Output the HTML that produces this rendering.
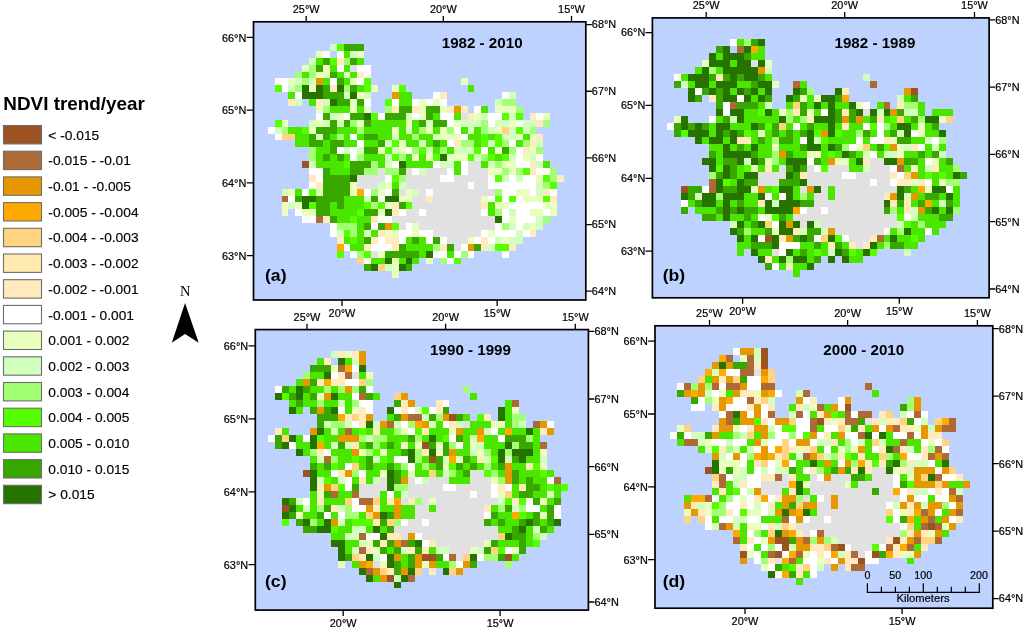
<!DOCTYPE html>
<html><head><meta charset="utf-8"><title>NDVI trend/year</title>
<style>html,body{margin:0;padding:0;background:#fff}svg{display:block}</style></head>
<body>
<svg width="1024" height="629" viewBox="0 0 1024 629">
<defs><filter id="bl" x="-5%" y="-5%" width="110%" height="110%"><feGaussianBlur stdDeviation="0.45"/></filter></defs>
<rect width="1024" height="629" fill="#fff"/>
<rect x="253.5" y="21.8" width="332.3" height="278.2" fill="#bed2ff"/>
<g shape-rendering="crispEdges" filter="url(#bl)">
<path fill="#d3ffbe" d="M330 44h7v7h-7zM350 51h7v7h-7zM309 58h7v7h-7zM344 72h6v6h-6zM295 78h7v7h-7zM309 78h7v7h-7zM288 85h7v7h-7zM344 92h6v7h-6zM364 92h7v7h-7zM509 92h7v7h-7zM295 99h7v7h-7zM323 99h7v7h-7zM495 99h7v7h-7zM330 113h7v7h-7zM406 113h6v7h-6zM481 113h7v7h-7zM509 113h7v7h-7zM309 120h7v7h-7zM323 120h7v7h-7zM337 120h7v7h-7zM426 120h7v7h-7zM461 120h20v7h-20zM495 120h14v7h-14zM523 120h13v7h-13zM275 127h7v7h-7zM406 127h6v7h-6zM468 127h6v7h-6zM488 127h7v7h-7zM509 127h7v7h-7zM523 127h7v7h-7zM316 134h7v6h-7zM392 134h7v6h-7zM433 134h7v6h-7zM502 134h14v6h-14zM385 140h7v7h-7zM419 140h7v7h-7zM488 140h7v7h-7zM536 140h7v7h-7zM344 147h6v7h-6zM357 147h7v7h-7zM392 147h7v7h-7zM426 147h7v7h-7zM454 147h20v7h-20zM385 154h7v7h-7zM474 154h7v7h-7zM509 154h7v7h-7zM530 154h6v7h-6zM309 161h7v7h-7zM385 161h7v7h-7zM440 161h14v7h-14zM488 161h7v7h-7zM536 161h7v7h-7zM419 168h7v7h-7zM502 175h7v7h-7zM516 175h7v7h-7zM378 182h7v7h-7zM399 182h7v7h-7zM536 182h7v7h-7zM282 189h6v7h-6zM316 189h7v7h-7zM412 189h7v7h-7zM536 189h7v7h-7zM364 196h7v6h-7zM288 202h7v7h-7zM509 209h7v7h-7zM536 216h7v7h-7zM509 223h7v7h-7zM523 223h7v7h-7zM536 223h7v7h-7zM337 230h7v7h-7zM364 230h7v7h-7zM516 230h7v7h-7zM495 237h7v7h-7zM509 237h14v7h-14zM488 244h7v7h-7zM385 264h7v7h-7z"/>
<path fill="#55ff00" d="M337 44h7v7h-7zM330 58h7v7h-7zM364 78h7v7h-7zM275 85h7v7h-7zM364 85h7v7h-7zM399 85h7v7h-7zM385 99h7v7h-7zM371 113h7v7h-7zM502 113h7v7h-7zM516 113h7v7h-7zM275 120h7v7h-7zM302 127h7v7h-7zM516 127h7v7h-7zM481 134h7v6h-7zM495 134h7v6h-7zM392 140h7v7h-7zM481 140h7v7h-7zM495 140h7v7h-7zM385 147h7v7h-7zM419 147h7v7h-7zM474 147h7v7h-7zM392 154h7v7h-7zM433 154h7v7h-7zM468 154h6v7h-6zM488 154h7v7h-7zM502 154h7v7h-7zM344 161h6v7h-6zM523 168h7v7h-7zM392 175h7v7h-7zM495 175h7v7h-7zM543 175h7v7h-7zM550 182h7v7h-7zM309 189h7v7h-7zM495 196h7v6h-7zM509 196h7v6h-7zM543 196h7v6h-7zM309 202h7v7h-7zM364 202h7v7h-7zM378 202h7v7h-7zM406 202h6v7h-6zM357 209h7v7h-7zM350 216h7v7h-7zM392 223h7v7h-7zM344 230h6v7h-6zM350 237h7v7h-7zM495 244h14v7h-14zM337 251h7v7h-7zM364 251h7v7h-7zM454 258h7v6h-7z"/>
<path fill="#38a800" d="M344 44h20v7h-20zM323 58h7v7h-7zM350 58h7v7h-7zM316 65h7v7h-7zM330 72h7v6h-7zM337 78h7v7h-7zM323 85h7v7h-7zM350 85h7v7h-7zM323 92h21v7h-21zM337 99h13v7h-13zM357 99h7v7h-7zM399 106h13v7h-13zM426 106h14v7h-14zM323 113h7v7h-7zM350 113h14v7h-14zM385 113h21v7h-21zM426 113h7v7h-7zM330 120h7v7h-7zM344 120h6v7h-6zM364 120h7v7h-7zM419 120h7v7h-7zM433 120h14v7h-14zM316 127h21v7h-21zM309 134h7v6h-7zM323 134h7v6h-7zM364 134h14v6h-14zM309 140h14v7h-14zM330 140h14v7h-14zM378 140h7v7h-7zM433 140h7v7h-7zM330 147h7v7h-7zM364 147h14v7h-14zM502 147h7v7h-7zM323 154h7v7h-7zM337 154h7v7h-7zM350 161h21v7h-21zM323 168h7v7h-7zM350 168h14v7h-14zM399 168h7v7h-7zM323 175h27v7h-27zM323 182h27v7h-27zM323 189h27v7h-27zM392 189h7v7h-7zM295 196h7v6h-7zM316 196h28v6h-28zM371 196h7v6h-7zM316 202h14v7h-14zM337 202h7v7h-7zM399 202h7v7h-7zM316 209h14v7h-14zM364 209h14v7h-14zM330 216h7v7h-7zM364 223h7v7h-7zM378 223h7v7h-7zM364 237h7v7h-7zM412 237h7v7h-7zM433 237h7v7h-7zM399 244h7v7h-7zM447 244h7v7h-7zM474 244h7v7h-7zM385 251h34v7h-34zM364 264h7v7h-7zM406 264h6v7h-6z"/>
<path fill="#e9ffbe" d="M316 51h7v7h-7zM357 51h7v7h-7zM302 65h7v7h-7zM323 65h7v7h-7zM316 72h14v6h-14zM288 78h7v7h-7zM350 78h7v7h-7zM461 78h7v7h-7zM309 85h7v7h-7zM371 85h7v7h-7zM392 85h7v7h-7zM357 92h7v7h-7zM350 99h7v7h-7zM419 99h7v7h-7zM433 99h7v7h-7zM316 106h7v7h-7zM350 106h7v7h-7zM364 106h7v7h-7zM419 106h7v7h-7zM440 106h7v7h-7zM495 106h21v7h-21zM337 113h7v7h-7zM419 113h7v7h-7zM474 113h7v7h-7zM543 113h7v7h-7zM282 120h6v7h-6zM316 120h7v7h-7zM357 120h7v7h-7zM406 120h6v7h-6zM454 120h7v7h-7zM509 120h7v7h-7zM309 127h7v7h-7zM392 127h7v7h-7zM426 127h7v7h-7zM440 127h7v7h-7zM495 127h7v7h-7zM440 134h21v6h-21zM516 134h7v6h-7zM530 134h6v6h-6zM399 140h7v7h-7zM378 147h7v7h-7zM399 147h7v7h-7zM495 147h7v7h-7zM530 147h6v7h-6zM412 154h7v7h-7zM426 154h7v7h-7zM447 154h21v7h-21zM523 154h7v7h-7zM502 161h14v7h-14zM488 168h14v7h-14zM509 168h7v7h-7zM536 175h7v7h-7zM350 182h7v7h-7zM385 182h7v7h-7zM288 189h7v7h-7zM350 189h7v7h-7zM378 189h7v7h-7zM406 189h6v7h-6zM516 189h14v7h-14zM399 196h13v6h-13zM481 196h7v6h-7zM523 196h20v6h-20zM282 202h6v7h-6zM295 202h7v7h-7zM385 202h7v7h-7zM495 202h14v7h-14zM543 202h14v7h-14zM282 209h6v7h-6zM302 209h14v7h-14zM378 209h7v7h-7zM530 209h13v7h-13zM550 209h7v7h-7zM509 216h7v7h-7zM412 223h7v7h-7zM530 223h6v7h-6zM385 230h14v7h-14zM412 230h7v7h-7zM488 230h7v7h-7zM468 237h6v7h-6zM502 237h7v7h-7zM378 251h7v7h-7zM392 258h7v6h-7zM426 258h7v6h-7zM392 264h7v7h-7zM392 271h7v7h-7z"/>
<path fill="#ffffff" d="M323 51h7v7h-7zM337 51h7v7h-7zM337 65h7v7h-7zM357 65h14v7h-14zM364 72h7v6h-7zM275 78h13v7h-13zM330 78h7v7h-7zM357 78h7v7h-7zM282 85h6v7h-6zM295 92h7v7h-7zM433 92h7v7h-7zM502 92h7v7h-7zM364 99h7v7h-7zM392 99h7v7h-7zM412 99h7v7h-7zM426 99h7v7h-7zM440 99h7v7h-7zM474 106h7v7h-7zM316 113h7v7h-7zM344 113h6v7h-6zM378 113h7v7h-7zM412 113h7v7h-7zM440 113h14v7h-14zM488 113h14v7h-14zM536 113h7v7h-7zM447 120h7v7h-7zM488 120h7v7h-7zM516 120h7v7h-7zM268 127h7v7h-7zM454 127h7v7h-7zM275 134h7v6h-7zM350 134h7v6h-7zM461 134h7v6h-7zM357 140h7v7h-7zM447 140h7v7h-7zM509 140h7v7h-7zM337 147h7v7h-7zM350 147h7v7h-7zM406 147h6v7h-6zM481 147h7v7h-7zM516 147h7v7h-7zM350 154h7v7h-7zM516 154h7v7h-7zM536 154h7v7h-7zM392 161h7v7h-7zM433 161h7v7h-7zM461 161h7v7h-7zM516 161h14v7h-14zM309 168h14v7h-14zM412 168h7v7h-7zM447 168h7v7h-7zM461 168h7v7h-7zM536 168h14v7h-14zM316 175h7v7h-7zM385 175h7v7h-7zM440 175h14v7h-14zM488 175h7v7h-7zM509 175h7v7h-7zM523 175h13v7h-13zM309 182h7v7h-7zM468 182h6v7h-6zM488 182h48v7h-48zM302 189h7v7h-7zM364 189h7v7h-7zM385 189h7v7h-7zM426 189h7v7h-7zM502 189h14v7h-14zM530 189h6v7h-6zM550 189h7v7h-7zM288 196h7v6h-7zM378 196h7v6h-7zM488 196h7v6h-7zM502 196h7v6h-7zM516 196h7v6h-7zM509 202h34v7h-34zM295 209h7v7h-7zM399 209h7v7h-7zM419 209h7v7h-7zM481 209h7v7h-7zM502 209h7v7h-7zM516 209h14v7h-14zM543 209h7v7h-7zM302 216h14v7h-14zM378 216h14v7h-14zM502 216h7v7h-7zM516 216h20v7h-20zM330 223h7v7h-7zM371 223h7v7h-7zM406 223h6v7h-6zM495 223h7v7h-7zM516 223h7v7h-7zM330 230h7v7h-7zM399 230h13v7h-13zM419 230h14v7h-14zM481 230h7v7h-7zM495 230h21v7h-21zM523 230h7v7h-7zM378 237h7v7h-7zM399 237h7v7h-7zM426 237h7v7h-7zM440 237h7v7h-7zM474 237h7v7h-7zM488 237h7v7h-7zM344 244h6v7h-6zM371 244h21v7h-21zM461 244h7v7h-7zM350 251h7v7h-7zM433 251h14v7h-14zM454 251h7v7h-7zM468 251h6v7h-6zM502 251h7v7h-7zM364 258h7v6h-7zM447 258h7v6h-7z"/>
<path fill="#4ce600" d="M344 51h6v7h-6zM316 58h7v7h-7zM357 58h7v7h-7zM330 65h7v7h-7zM344 65h6v7h-6zM302 72h7v6h-7zM337 72h7v6h-7zM350 72h7v6h-7zM323 78h7v7h-7zM344 78h6v7h-6zM357 85h7v7h-7zM468 85h6v7h-6zM288 92h7v7h-7zM399 92h13v7h-13zM309 99h7v7h-7zM399 99h13v7h-13zM330 106h20v7h-20zM357 106h7v7h-7zM481 106h7v7h-7zM433 113h7v7h-7zM454 113h7v7h-7zM371 120h35v7h-35zM412 120h7v7h-7zM288 127h14v7h-14zM337 127h20v7h-20zM364 127h28v7h-28zM399 127h7v7h-7zM412 127h7v7h-7zM433 127h7v7h-7zM461 127h7v7h-7zM474 127h7v7h-7zM295 134h14v6h-14zM330 134h7v6h-7zM344 134h6v6h-6zM357 134h7v6h-7zM378 134h14v6h-14zM399 134h13v6h-13zM419 134h14v6h-14zM468 134h13v6h-13zM488 134h7v6h-7zM523 134h7v6h-7zM295 140h14v7h-14zM323 140h7v7h-7zM344 140h13v7h-13zM364 140h14v7h-14zM406 140h13v7h-13zM426 140h7v7h-7zM440 140h7v7h-7zM474 140h7v7h-7zM516 140h7v7h-7zM316 147h14v7h-14zM433 147h7v7h-7zM447 147h7v7h-7zM488 147h7v7h-7zM316 154h7v7h-7zM330 154h7v7h-7zM344 154h6v7h-6zM364 154h21v7h-21zM406 154h6v7h-6zM419 154h7v7h-7zM495 154h7v7h-7zM316 161h28v7h-28zM378 161h7v7h-7zM406 161h27v7h-27zM454 161h7v7h-7zM481 161h7v7h-7zM543 161h7v7h-7zM330 168h20v7h-20zM454 168h7v7h-7zM392 182h7v7h-7zM295 189h7v7h-7zM344 196h20v6h-20zM330 202h7v7h-7zM344 202h20v7h-20zM488 202h7v7h-7zM330 209h27v7h-27zM488 209h7v7h-7zM337 216h13v7h-13zM357 216h14v7h-14zM357 223h7v7h-7zM357 230h7v7h-7zM371 230h7v7h-7zM344 237h6v7h-6zM357 237h7v7h-7zM406 237h6v7h-6zM419 237h7v7h-7zM350 244h14v7h-14zM406 244h27v7h-27zM419 251h7v7h-7zM447 251h7v7h-7zM371 258h14v6h-14zM399 258h7v6h-7zM412 258h7v6h-7z"/>
<path fill="#ffebbe" d="M337 58h7v7h-7zM357 72h7v6h-7zM330 85h7v7h-7zM440 92h7v7h-7zM288 99h7v7h-7zM316 99h7v7h-7zM392 106h7v7h-7zM412 106h7v7h-7zM447 106h7v7h-7zM461 106h7v7h-7zM468 113h6v7h-6zM530 113h6v7h-6zM536 120h7v7h-7zM536 134h7v6h-7zM454 140h7v7h-7zM530 140h6v7h-6zM523 147h7v7h-7zM530 161h6v7h-6zM530 168h6v7h-6zM309 175h7v7h-7zM557 175h7v7h-7zM316 182h7v7h-7zM543 189h7v7h-7zM426 196h7v6h-7zM550 196h7v6h-7zM392 202h7v7h-7zM481 202h7v7h-7zM392 209h7v7h-7zM323 216h7v7h-7zM371 216h7v7h-7zM378 230h7v7h-7zM530 230h6v7h-6zM337 237h7v7h-7zM371 237h7v7h-7zM385 237h14v7h-14zM481 237h7v7h-7zM364 244h7v7h-7zM392 244h7v7h-7zM440 244h7v7h-7zM481 244h7v7h-7zM509 244h7v7h-7z"/>
<path fill="#a3ff73" d="M344 58h6v7h-6zM309 65h7v7h-7zM295 72h7v6h-7zM309 72h7v6h-7zM302 78h7v7h-7zM295 85h7v7h-7zM344 85h6v7h-6zM502 99h14v7h-14zM323 106h7v7h-7zM385 106h7v7h-7zM516 106h7v7h-7zM350 120h7v7h-7zM481 120h7v7h-7zM543 120h7v7h-7zM282 127h6v7h-6zM357 127h7v7h-7zM419 127h7v7h-7zM447 127h7v7h-7zM481 127h7v7h-7zM530 127h6v7h-6zM337 134h7v6h-7zM412 134h7v6h-7zM461 140h13v7h-13zM502 140h7v7h-7zM523 140h7v7h-7zM309 147h7v7h-7zM412 147h7v7h-7zM440 147h7v7h-7zM509 147h7v7h-7zM536 147h7v7h-7zM309 154h7v7h-7zM357 154h7v7h-7zM399 154h7v7h-7zM481 154h7v7h-7zM371 161h7v7h-7zM495 161h7v7h-7zM364 168h14v7h-14zM385 168h14v7h-14zM502 168h7v7h-7zM516 168h7v7h-7zM550 168h7v7h-7zM399 175h7v7h-7zM550 175h7v7h-7zM543 182h7v7h-7zM371 189h7v7h-7zM495 189h7v7h-7zM371 202h7v7h-7zM495 209h7v7h-7zM543 216h7v7h-7zM337 223h20v7h-20zM502 223h7v7h-7zM350 230h7v7h-7zM433 244h7v7h-7zM357 251h7v7h-7zM461 251h7v7h-7zM440 258h7v6h-7z"/>
<path fill="#e1e1e1" d="M350 65h7v7h-7zM461 113h7v7h-7zM468 161h13v7h-13zM378 168h7v7h-7zM406 168h6v7h-6zM426 168h21v7h-21zM468 168h20v7h-20zM357 175h28v7h-28zM406 175h34v7h-34zM454 175h34v7h-34zM357 182h21v7h-21zM406 182h62v7h-62zM474 182h14v7h-14zM399 189h7v7h-7zM419 189h7v7h-7zM433 189h62v7h-62zM412 196h14v6h-14zM433 196h48v6h-48zM412 202h69v7h-69zM406 209h13v7h-13zM426 209h55v7h-55zM392 216h103v7h-103zM399 223h7v7h-7zM419 223h76v7h-76zM433 230h48v7h-48zM447 237h21v7h-21zM454 244h7v7h-7zM371 251h7v7h-7z"/>
<path fill="#e69800" d="M316 78h7v7h-7zM392 92h7v7h-7zM454 106h7v7h-7zM385 223h7v7h-7zM468 244h6v7h-6z"/>
<path fill="#267300" d="M302 85h7v7h-7zM316 85h7v7h-7zM337 85h7v7h-7zM302 92h21v7h-21zM350 92h7v7h-7zM330 99h7v7h-7zM364 113h7v7h-7zM440 154h7v7h-7zM399 161h7v7h-7zM350 175h7v7h-7zM302 196h14v6h-14zM385 196h14v6h-14zM302 202h7v7h-7zM385 209h7v7h-7zM495 216h7v7h-7zM426 251h7v7h-7zM385 258h7v6h-7zM406 258h6v6h-6zM371 264h7v7h-7zM399 264h7v7h-7z"/>
<path fill="#ffd37f" d="M502 127h7v7h-7zM282 134h13v6h-13zM357 258h7v6h-7zM378 264h7v7h-7z"/>
<path fill="#9c5221" d="M302 161h7v7h-7z"/>
<path fill="#ffaa00" d="M357 189h7v7h-7zM337 244h7v7h-7z"/>
<path fill="#ad6b38" d="M282 196h6v6h-6zM316 216h7v7h-7z"/>
</g>
<rect x="253.5" y="21.8" width="332.3" height="278.2" fill="none" stroke="#000" stroke-width="1.7"/>
<text transform="translate(246.35 41.55) scale(1.02 1)" text-anchor="end" font-family="Liberation Sans, Arial, sans-serif" font-size="10.7" stroke="#000" stroke-width="0.2">66°N</text>
<text transform="translate(246.35 114.35) scale(1.02 1)" text-anchor="end" font-family="Liberation Sans, Arial, sans-serif" font-size="10.7" stroke="#000" stroke-width="0.2">65°N</text>
<text transform="translate(246.35 187.15) scale(1.02 1)" text-anchor="end" font-family="Liberation Sans, Arial, sans-serif" font-size="10.7" stroke="#000" stroke-width="0.2">64°N</text>
<text transform="translate(246.35 259.85) scale(1.02 1)" text-anchor="end" font-family="Liberation Sans, Arial, sans-serif" font-size="10.7" stroke="#000" stroke-width="0.2">63°N</text>
<text transform="translate(591.85 28.45) scale(1.02 1)" font-family="Liberation Sans, Arial, sans-serif" font-size="10.7" stroke="#000" stroke-width="0.2">68°N</text>
<text transform="translate(591.85 95.10) scale(1.02 1)" font-family="Liberation Sans, Arial, sans-serif" font-size="10.7" stroke="#000" stroke-width="0.2">67°N</text>
<text transform="translate(591.85 161.75) scale(1.02 1)" font-family="Liberation Sans, Arial, sans-serif" font-size="10.7" stroke="#000" stroke-width="0.2">66°N</text>
<text transform="translate(591.85 228.40) scale(1.02 1)" font-family="Liberation Sans, Arial, sans-serif" font-size="10.7" stroke="#000" stroke-width="0.2">65°N</text>
<text transform="translate(591.85 295.05) scale(1.02 1)" font-family="Liberation Sans, Arial, sans-serif" font-size="10.7" stroke="#000" stroke-width="0.2">64°N</text>
<text transform="translate(306.20 13.30) scale(1.02 1)" text-anchor="middle" font-family="Liberation Sans, Arial, sans-serif" font-size="10.7" stroke="#000" stroke-width="0.2">25°W</text>
<text transform="translate(443.30 13.30) scale(1.02 1)" text-anchor="middle" font-family="Liberation Sans, Arial, sans-serif" font-size="10.7" stroke="#000" stroke-width="0.2">20°W</text>
<text transform="translate(571.50 13.30) scale(1.02 1)" text-anchor="middle" font-family="Liberation Sans, Arial, sans-serif" font-size="10.7" stroke="#000" stroke-width="0.2">15°W</text>
<text transform="translate(342.00 316.60) scale(1.02 1)" text-anchor="middle" font-family="Liberation Sans, Arial, sans-serif" font-size="10.7" stroke="#000" stroke-width="0.2">20°W</text>
<text transform="translate(497.20 316.60) scale(1.02 1)" text-anchor="middle" font-family="Liberation Sans, Arial, sans-serif" font-size="10.7" stroke="#000" stroke-width="0.2">15°W</text>
<path d="M246.7 37.3H253.5M246.7 110.1H253.5M246.7 182.9H253.5M246.7 255.6H253.5M585.8 24.6H591.8M585.8 91.25H591.8M585.8 157.9H591.8M585.8 224.55H591.8M585.8 291.2H591.8M306.2 21.8V15.9M443.3 21.8V15.9M571.5 21.8V15.9M342.0 300.0V305.9M497.2 300.0V305.9" stroke="#000" stroke-width="1.3" fill="none"/>
<text transform="translate(441.70 47.60) scale(0.985 1)" font-family="Liberation Sans, Arial, sans-serif" font-size="15.4" font-weight="bold">1982 - 2010</text>
<text transform="translate(264.95 281.15) scale(1.05 1)" font-family="Liberation Sans, Arial, sans-serif" font-size="16.8" font-weight="bold">(a)</text>
<rect x="652.4" y="17.9" width="336.7" height="279.9" fill="#bed2ff"/>
<g shape-rendering="crispEdges" filter="url(#bl)">
<path fill="#ffffff" d="M730 39h7v7h-7zM674 74h7v7h-7zM695 88h7v7h-7zM737 95h7v7h-7zM723 102h7v7h-7zM863 102h7v7h-7zM723 109h7v7h-7zM821 109h7v7h-7zM709 116h7v7h-7zM667 123h7v7h-7zM793 123h7v7h-7zM863 123h7v7h-7zM877 123h7v7h-7zM877 130h7v7h-7zM911 130h7v7h-7zM800 137h7v7h-7zM856 137h7v7h-7zM870 137h14v7h-14zM932 137h7v7h-7zM849 144h7v7h-7zM918 144h7v7h-7zM870 151h7v7h-7zM807 158h7v7h-7zM925 158h7v7h-7zM814 165h7v7h-7zM890 165h7v7h-7zM842 172h14v7h-14zM897 172h7v7h-7zM870 179h7v7h-7zM890 179h7v7h-7zM925 179h7v7h-7zM702 186h7v7h-7zM946 186h7v7h-7zM765 193h7v7h-7zM779 193h7v7h-7zM681 200h7v7h-7zM800 207h7v7h-7zM821 207h7v7h-7zM758 214h7v7h-7zM904 214h7v7h-7zM772 221h7v7h-7zM884 228h6v7h-6zM925 228h7v7h-7zM758 235h7v7h-7zM814 235h7v7h-7zM842 235h7v7h-7zM779 242h21v7h-21zM779 249h7v7h-7zM772 263h7v7h-7z"/>
<path fill="#4ce600" d="M737 39h7v7h-7zM758 46h7v7h-7zM716 53h7v7h-7zM751 53h14v7h-14zM730 60h7v7h-7zM695 67h7v7h-7zM716 67h7v7h-7zM681 74h7v7h-7zM765 74h7v7h-7zM688 81h7v7h-7zM709 81h7v7h-7zM737 81h14v7h-14zM800 81h7v7h-7zM730 88h7v7h-7zM758 88h7v7h-7zM751 95h7v7h-7zM807 95h7v7h-7zM904 95h7v7h-7zM758 102h7v7h-7zM786 102h7v7h-7zM807 102h7v7h-7zM821 102h7v7h-7zM835 102h14v7h-14zM877 102h7v7h-7zM918 102h7v7h-7zM744 109h14v7h-14zM772 109h7v7h-7zM814 109h7v7h-7zM918 109h7v7h-7zM932 109h21v7h-21zM716 116h7v7h-7zM744 116h35v7h-35zM793 116h7v7h-7zM863 116h7v7h-7zM884 116h6v7h-6zM904 116h7v7h-7zM709 123h7v7h-7zM730 123h21v7h-21zM786 123h7v7h-7zM800 123h7v7h-7zM814 123h14v7h-14zM835 123h7v7h-7zM849 123h14v7h-14zM890 123h7v7h-7zM911 123h7v7h-7zM925 123h7v7h-7zM709 130h7v7h-7zM751 130h7v7h-7zM765 130h7v7h-7zM779 130h7v7h-7zM793 130h7v7h-7zM842 130h14v7h-14zM870 130h7v7h-7zM884 130h6v7h-6zM925 130h14v7h-14zM702 137h7v7h-7zM723 137h7v7h-7zM751 137h7v7h-7zM765 137h7v7h-7zM793 137h7v7h-7zM828 137h28v7h-28zM863 137h7v7h-7zM911 137h14v7h-14zM709 144h14v7h-14zM730 144h7v7h-7zM744 144h7v7h-7zM758 144h14v7h-14zM779 144h21v7h-21zM821 144h7v7h-7zM870 144h7v7h-7zM925 144h7v7h-7zM939 144h7v7h-7zM716 151h7v7h-7zM758 151h14v7h-14zM793 151h14v7h-14zM821 151h7v7h-7zM835 151h7v7h-7zM856 151h7v7h-7zM877 151h7v7h-7zM904 151h14v7h-14zM925 151h7v7h-7zM716 158h7v7h-7zM779 158h7v7h-7zM821 158h7v7h-7zM849 158h7v7h-7zM918 158h7v7h-7zM939 158h7v7h-7zM737 165h7v7h-7zM758 165h7v7h-7zM772 165h7v7h-7zM849 165h14v7h-14zM904 165h7v7h-7zM918 165h7v7h-7zM939 165h14v7h-14zM737 172h7v7h-7zM918 172h7v7h-7zM932 172h7v7h-7zM946 172h7v7h-7zM730 179h7v7h-7zM932 179h7v7h-7zM765 186h7v7h-7zM793 186h7v7h-7zM828 186h7v7h-7zM911 186h7v7h-7zM953 186h7v7h-7zM744 193h14v7h-14zM772 193h7v7h-7zM793 193h7v7h-7zM807 193h7v7h-7zM828 193h7v7h-7zM918 193h7v7h-7zM939 193h7v7h-7zM953 193h7v7h-7zM688 200h7v7h-7zM716 200h7v7h-7zM730 200h7v7h-7zM744 200h14v7h-14zM911 200h7v7h-7zM932 200h7v7h-7zM953 200h7v7h-7zM695 207h21v7h-21zM758 207h7v7h-7zM897 207h7v7h-7zM939 207h7v7h-7zM716 214h7v7h-7zM730 214h14v7h-14zM751 214h7v7h-7zM786 214h7v7h-7zM918 214h21v7h-21zM744 221h7v7h-7zM911 221h7v7h-7zM925 221h21v7h-21zM751 228h14v7h-14zM890 228h7v7h-7zM911 228h14v7h-14zM932 228h7v7h-7zM744 235h7v7h-7zM884 235h6v7h-6zM897 235h14v7h-14zM918 235h7v7h-7zM737 242h14v7h-14zM800 242h14v7h-14zM821 242h7v7h-7zM842 242h7v7h-7zM877 242h7v7h-7zM904 242h14v7h-14zM737 249h7v7h-7zM758 249h14v7h-14zM793 249h7v7h-7zM807 249h7v7h-7zM821 249h7v7h-7zM856 249h7v7h-7zM772 256h7v7h-7zM807 256h7v7h-7zM849 256h14v7h-14zM779 263h7v7h-7zM793 263h14v7h-14zM793 270h7v7h-7z"/>
<path fill="#a3ff73" d="M744 39h7v7h-7zM709 67h7v7h-7zM807 88h7v7h-7zM904 102h14v7h-14zM786 109h7v7h-7zM786 116h7v7h-7zM800 116h7v7h-7zM918 116h7v7h-7zM884 123h6v7h-6zM856 130h7v7h-7zM772 137h7v7h-7zM939 137h7v7h-7zM842 144h7v7h-7zM772 151h7v7h-7zM772 158h7v7h-7zM953 165h7v7h-7zM709 172h7v7h-7zM946 179h14v7h-14zM716 193h7v7h-7zM800 193h7v7h-7zM890 207h7v7h-7zM953 207h7v7h-7zM918 221h7v7h-7zM744 228h7v7h-7zM897 228h7v7h-7zM884 242h6v7h-6zM786 256h7v7h-7z"/>
<path fill="#38a800" d="M751 39h7v7h-7zM716 46h7v7h-7zM744 53h7v7h-7zM709 74h7v7h-7zM723 74h7v7h-7zM737 74h7v7h-7zM758 74h7v7h-7zM674 81h7v7h-7zM751 81h7v7h-7zM702 88h7v7h-7zM716 88h7v7h-7zM744 88h7v7h-7zM800 88h7v7h-7zM695 95h7v7h-7zM716 95h7v7h-7zM765 95h7v7h-7zM793 95h7v7h-7zM835 95h7v7h-7zM911 95h7v7h-7zM716 102h7v7h-7zM737 102h21v7h-21zM800 102h7v7h-7zM800 109h7v7h-7zM835 109h7v7h-7zM849 109h7v7h-7zM897 109h7v7h-7zM723 116h7v7h-7zM835 116h7v7h-7zM849 116h7v7h-7zM870 116h7v7h-7zM911 116h7v7h-7zM674 123h7v7h-7zM688 123h7v7h-7zM702 123h7v7h-7zM758 123h7v7h-7zM772 123h7v7h-7zM807 123h7v7h-7zM932 123h7v7h-7zM674 130h7v7h-7zM723 130h7v7h-7zM737 130h7v7h-7zM772 130h7v7h-7zM786 130h7v7h-7zM800 130h7v7h-7zM863 130h7v7h-7zM890 130h7v7h-7zM758 137h7v7h-7zM779 137h14v7h-14zM897 137h14v7h-14zM737 144h7v7h-7zM800 144h7v7h-7zM835 144h7v7h-7zM877 144h7v7h-7zM709 151h7v7h-7zM751 151h7v7h-7zM786 151h7v7h-7zM849 151h7v7h-7zM918 151h7v7h-7zM932 151h7v7h-7zM723 158h14v7h-14zM758 158h7v7h-7zM814 158h7v7h-7zM904 158h14v7h-14zM946 158h7v7h-7zM730 165h7v7h-7zM786 165h7v7h-7zM800 165h7v7h-7zM716 172h7v7h-7zM730 172h7v7h-7zM793 172h7v7h-7zM960 172h7v7h-7zM744 179h14v7h-14zM779 179h21v7h-21zM688 186h14v7h-14zM723 186h14v7h-14zM904 186h7v7h-7zM688 193h7v7h-7zM925 193h14v7h-14zM695 200h7v7h-7zM737 200h7v7h-7zM800 200h14v7h-14zM897 200h7v7h-7zM918 200h7v7h-7zM946 200h7v7h-7zM681 207h7v7h-7zM716 207h7v7h-7zM730 207h7v7h-7zM744 207h14v7h-14zM884 207h6v7h-6zM925 207h7v7h-7zM702 214h14v7h-14zM744 214h7v7h-7zM779 214h7v7h-7zM939 214h14v7h-14zM751 221h7v7h-7zM737 228h7v7h-7zM765 228h7v7h-7zM807 228h14v7h-14zM793 235h7v7h-7zM807 235h7v7h-7zM751 242h21v7h-21zM814 242h7v7h-7zM835 242h7v7h-7zM890 242h14v7h-14zM800 249h7v7h-7zM842 249h7v7h-7zM814 256h7v7h-7zM765 263h7v7h-7z"/>
<path fill="#267300" d="M758 39h7v7h-7zM723 46h7v7h-7zM744 46h7v7h-7zM709 53h7v7h-7zM723 53h21v7h-21zM709 60h21v7h-21zM737 60h14v7h-14zM758 60h7v7h-7zM702 67h7v7h-7zM723 67h35v7h-35zM688 74h21v7h-21zM730 74h7v7h-7zM744 74h14v7h-14zM695 81h14v7h-14zM716 81h21v7h-21zM758 81h14v7h-14zM688 88h7v7h-7zM709 88h7v7h-7zM723 88h7v7h-7zM737 88h7v7h-7zM751 88h7v7h-7zM765 88h7v7h-7zM793 88h7v7h-7zM835 88h7v7h-7zM688 95h7v7h-7zM723 95h14v7h-14zM744 95h7v7h-7zM758 95h7v7h-7zM786 95h7v7h-7zM821 95h14v7h-14zM814 102h7v7h-7zM828 102h7v7h-7zM849 102h7v7h-7zM716 109h7v7h-7zM730 109h14v7h-14zM765 109h7v7h-7zM828 109h7v7h-7zM856 109h7v7h-7zM870 109h7v7h-7zM884 109h6v7h-6zM681 116h7v7h-7zM737 116h7v7h-7zM779 116h7v7h-7zM814 116h21v7h-21zM925 116h14v7h-14zM681 123h7v7h-7zM695 123h7v7h-7zM716 123h14v7h-14zM751 123h7v7h-7zM828 123h7v7h-7zM897 123h14v7h-14zM688 130h21v7h-21zM716 130h7v7h-7zM730 130h7v7h-7zM807 130h7v7h-7zM828 130h7v7h-7zM904 130h7v7h-7zM939 130h7v7h-7zM695 137h7v7h-7zM709 137h14v7h-14zM730 137h7v7h-7zM807 137h7v7h-7zM723 144h7v7h-7zM751 144h7v7h-7zM807 144h14v7h-14zM828 144h7v7h-7zM723 151h28v7h-28zM842 151h7v7h-7zM702 158h14v7h-14zM737 158h7v7h-7zM751 158h7v7h-7zM786 158h21v7h-21zM856 158h7v7h-7zM884 158h13v7h-13zM709 165h7v7h-7zM723 165h7v7h-7zM793 165h7v7h-7zM723 172h7v7h-7zM744 172h14v7h-14zM786 172h7v7h-7zM953 172h7v7h-7zM716 179h7v7h-7zM737 179h7v7h-7zM800 179h7v7h-7zM716 186h7v7h-7zM737 186h14v7h-14zM779 186h14v7h-14zM814 186h7v7h-7zM897 186h7v7h-7zM932 186h14v7h-14zM681 193h7v7h-7zM702 193h14v7h-14zM723 193h21v7h-21zM758 193h7v7h-7zM786 193h7v7h-7zM897 193h7v7h-7zM946 193h7v7h-7zM702 200h14v7h-14zM723 200h7v7h-7zM765 200h7v7h-7zM779 200h21v7h-21zM884 200h6v7h-6zM723 207h7v7h-7zM737 207h7v7h-7zM765 207h28v7h-28zM932 207h7v7h-7zM946 207h7v7h-7zM723 214h7v7h-7zM737 221h7v7h-7zM758 221h7v7h-7zM779 221h7v7h-7zM793 221h7v7h-7zM807 221h7v7h-7zM730 228h7v7h-7zM779 228h14v7h-14zM904 228h7v7h-7zM737 235h7v7h-7zM751 235h7v7h-7zM772 235h7v7h-7zM800 235h7v7h-7zM828 235h7v7h-7zM890 235h7v7h-7zM772 242h7v7h-7zM870 242h7v7h-7zM751 249h7v7h-7zM786 249h7v7h-7zM835 249h7v7h-7zM863 249h7v7h-7zM758 256h7v7h-7zM779 256h7v7h-7zM793 256h14v7h-14zM828 256h7v7h-7zM842 256h7v7h-7zM807 263h7v7h-7z"/>
<path fill="#ad6b38" d="M737 46h7v7h-7zM793 81h7v7h-7zM870 81h7v7h-7zM730 102h7v7h-7zM884 102h6v7h-6zM897 165h7v7h-7zM709 179h7v7h-7zM709 186h7v7h-7zM877 235h7v7h-7z"/>
<path fill="#ffaa00" d="M751 46h7v7h-7zM842 95h7v7h-7zM918 186h7v7h-7zM925 200h7v7h-7zM793 207h7v7h-7z"/>
<path fill="#e9ffbe" d="M702 60h7v7h-7zM765 60h7v7h-7zM772 81h7v7h-7zM800 95h7v7h-7zM814 95h7v7h-7zM856 102h7v7h-7zM779 109h7v7h-7zM807 109h7v7h-7zM674 116h7v7h-7zM939 116h7v7h-7zM918 123h7v7h-7zM758 130h7v7h-7zM918 130h7v7h-7zM890 137h7v7h-7zM772 144h7v7h-7zM856 144h7v7h-7zM897 144h7v7h-7zM807 151h14v7h-14zM897 151h7v7h-7zM765 158h7v7h-7zM835 158h14v7h-14zM932 158h7v7h-7zM751 165h7v7h-7zM911 165h7v7h-7zM911 179h7v7h-7zM939 179h7v7h-7zM751 186h7v7h-7zM925 186h7v7h-7zM765 214h7v7h-7zM772 228h7v7h-7z"/>
<path fill="#e1e1e1" d="M751 60h7v7h-7zM863 109h7v7h-7zM870 158h14v7h-14zM779 165h7v7h-7zM807 165h7v7h-7zM828 165h21v7h-21zM870 165h20v7h-20zM758 172h28v7h-28zM807 172h35v7h-35zM856 172h34v7h-34zM758 179h21v7h-21zM807 179h63v7h-63zM877 179h13v7h-13zM800 186h7v7h-7zM821 186h7v7h-7zM835 186h62v7h-62zM814 193h14v7h-14zM835 193h49v7h-49zM814 200h70v7h-70zM807 207h14v7h-14zM828 207h56v7h-56zM793 214h104v7h-104zM800 221h7v7h-7zM821 221h76v7h-76zM835 228h49v7h-49zM849 235h21v7h-21zM856 242h7v7h-7zM772 249h7v7h-7z"/>
<path fill="#e69800" d="M758 67h7v7h-7zM904 88h7v7h-7zM890 109h7v7h-7zM842 116h7v7h-7zM856 116h7v7h-7zM821 130h7v7h-7zM890 144h7v7h-7zM779 151h7v7h-7zM828 158h7v7h-7zM897 158h7v7h-7zM911 172h7v7h-7zM758 186h7v7h-7zM807 186h7v7h-7zM890 193h7v7h-7zM911 193h7v7h-7zM918 207h7v7h-7zM786 221h7v7h-7zM828 228h7v7h-7zM786 235h7v7h-7z"/>
<path fill="#d3ffbe" d="M765 67h7v7h-7zM863 74h7v7h-7zM681 81h7v7h-7zM897 95h7v7h-7zM765 102h7v7h-7zM877 109h7v7h-7zM904 109h14v7h-14zM730 116h7v7h-7zM897 130h7v7h-7zM814 137h7v7h-7zM925 137h7v7h-7zM904 144h7v7h-7zM932 144h7v7h-7zM863 151h7v7h-7zM884 151h13v7h-13zM939 151h7v7h-7zM744 158h7v7h-7zM863 165h7v7h-7zM925 165h7v7h-7zM695 193h7v7h-7zM904 193h7v7h-7zM772 200h7v7h-7zM939 200h7v7h-7zM911 207h7v7h-7zM911 214h7v7h-7zM730 221h7v7h-7zM814 221h7v7h-7zM897 221h7v7h-7zM800 228h7v7h-7zM821 228h7v7h-7zM828 249h7v7h-7zM904 249h7v7h-7z"/>
<path fill="#ffebbe" d="M716 74h7v7h-7zM842 88h7v7h-7zM709 95h7v7h-7zM897 102h7v7h-7zM793 109h7v7h-7zM842 109h7v7h-7zM807 116h7v7h-7zM877 116h7v7h-7zM842 123h7v7h-7zM737 137h14v7h-14zM884 137h6v7h-6zM911 144h7v7h-7zM863 158h7v7h-7zM765 165h7v7h-7zM932 165h7v7h-7zM800 172h7v7h-7zM890 172h7v7h-7zM897 179h14v7h-14zM918 179h7v7h-7zM884 193h6v7h-6zM758 200h7v7h-7zM890 200h7v7h-7zM904 200h7v7h-7zM904 207h7v7h-7zM793 228h7v7h-7zM779 235h7v7h-7zM870 235h7v7h-7zM828 242h7v7h-7zM849 242h7v7h-7zM863 242h7v7h-7zM765 256h7v7h-7zM786 263h7v7h-7z"/>
<path fill="#9c5221" d="M911 88h7v7h-7zM681 186h7v7h-7zM765 235h7v7h-7z"/>
<path fill="#ffd37f" d="M793 102h7v7h-7zM897 116h7v7h-7zM946 116h7v7h-7zM779 123h7v7h-7zM863 144h7v7h-7zM904 172h7v7h-7zM765 221h7v7h-7zM821 235h7v7h-7z"/>
<path fill="#55ff00" d="M758 109h7v7h-7zM890 116h7v7h-7zM765 123h7v7h-7zM870 123h7v7h-7zM681 130h7v7h-7zM744 130h7v7h-7zM814 130h7v7h-7zM835 130h7v7h-7zM821 137h7v7h-7zM884 144h6v7h-6zM828 151h7v7h-7zM716 165h7v7h-7zM744 165h7v7h-7zM821 165h7v7h-7zM925 172h7v7h-7zM939 172h7v7h-7zM723 179h7v7h-7zM772 186h7v7h-7zM772 214h7v7h-7zM897 214h7v7h-7zM904 221h7v7h-7zM835 235h7v7h-7zM911 235h7v7h-7zM814 249h7v7h-7zM849 249h7v7h-7zM870 249h7v7h-7z"/>
</g>
<rect x="652.4" y="17.9" width="336.7" height="279.9" fill="none" stroke="#000" stroke-width="1.7"/>
<text transform="translate(645.25 36.45) scale(1.02 1)" text-anchor="end" font-family="Liberation Sans, Arial, sans-serif" font-size="10.7" stroke="#000" stroke-width="0.2">66°N</text>
<text transform="translate(645.25 109.25) scale(1.02 1)" text-anchor="end" font-family="Liberation Sans, Arial, sans-serif" font-size="10.7" stroke="#000" stroke-width="0.2">65°N</text>
<text transform="translate(645.25 182.15) scale(1.02 1)" text-anchor="end" font-family="Liberation Sans, Arial, sans-serif" font-size="10.7" stroke="#000" stroke-width="0.2">64°N</text>
<text transform="translate(645.25 254.95) scale(1.02 1)" text-anchor="end" font-family="Liberation Sans, Arial, sans-serif" font-size="10.7" stroke="#000" stroke-width="0.2">63°N</text>
<text transform="translate(995.15 23.75) scale(1.02 1)" font-family="Liberation Sans, Arial, sans-serif" font-size="10.7" stroke="#000" stroke-width="0.2">68°N</text>
<text transform="translate(995.15 90.95) scale(1.02 1)" font-family="Liberation Sans, Arial, sans-serif" font-size="10.7" stroke="#000" stroke-width="0.2">67°N</text>
<text transform="translate(995.15 158.25) scale(1.02 1)" font-family="Liberation Sans, Arial, sans-serif" font-size="10.7" stroke="#000" stroke-width="0.2">66°N</text>
<text transform="translate(995.15 225.55) scale(1.02 1)" font-family="Liberation Sans, Arial, sans-serif" font-size="10.7" stroke="#000" stroke-width="0.2">65°N</text>
<text transform="translate(995.15 292.85) scale(1.02 1)" font-family="Liberation Sans, Arial, sans-serif" font-size="10.7" stroke="#000" stroke-width="0.2">64°N</text>
<text transform="translate(706.20 9.40) scale(1.02 1)" text-anchor="middle" font-family="Liberation Sans, Arial, sans-serif" font-size="10.7" stroke="#000" stroke-width="0.2">25°W</text>
<text transform="translate(844.70 9.40) scale(1.02 1)" text-anchor="middle" font-family="Liberation Sans, Arial, sans-serif" font-size="10.7" stroke="#000" stroke-width="0.2">20°W</text>
<text transform="translate(974.50 9.40) scale(1.02 1)" text-anchor="middle" font-family="Liberation Sans, Arial, sans-serif" font-size="10.7" stroke="#000" stroke-width="0.2">15°W</text>
<text transform="translate(742.60 315.40) scale(1.02 1)" text-anchor="middle" font-family="Liberation Sans, Arial, sans-serif" font-size="10.7" stroke="#000" stroke-width="0.2">20°W</text>
<text transform="translate(899.30 315.40) scale(1.02 1)" text-anchor="middle" font-family="Liberation Sans, Arial, sans-serif" font-size="10.7" stroke="#000" stroke-width="0.2">15°W</text>
<path d="M645.5 32.6H652.4M645.5 105.4H652.4M645.5 178.3H652.4M645.5 251.1H652.4M989.1 19.9H995.1M989.1 87.1H995.1M989.1 154.4H995.1M989.1 221.7H995.1M989.1 289.0H995.1M706.2 17.9V12.0M844.7 17.9V12.0M974.5 17.9V12.0M742.6 297.8V303.7M899.3 297.8V303.7" stroke="#000" stroke-width="1.3" fill="none"/>
<text transform="translate(834.50 47.70) scale(0.985 1)" font-family="Liberation Sans, Arial, sans-serif" font-size="15.4" font-weight="bold">1982 - 1989</text>
<text transform="translate(662.65 280.90) scale(1.05 1)" font-family="Liberation Sans, Arial, sans-serif" font-size="16.8" font-weight="bold">(b)</text>
<rect x="255.3" y="329.6" width="333.1" height="280.5" fill="#bed2ff"/>
<g shape-rendering="crispEdges" filter="url(#bl)">
<path fill="#d3ffbe" d="M331 351h7v7h-7zM352 358h7v7h-7zM338 400h7v7h-7zM415 407h7v7h-7zM422 414h7v7h-7zM324 421h7v7h-7zM345 421h7v7h-7zM373 421h7v7h-7zM394 421h7v7h-7zM429 421h7v7h-7zM456 421h7v7h-7zM519 421h7v7h-7zM331 428h7v7h-7zM484 428h7v7h-7zM366 435h7v7h-7zM470 435h7v7h-7zM331 442h7v7h-7zM345 442h7v7h-7zM477 442h7v7h-7zM470 449h7v7h-7zM317 456h7v7h-7zM373 456h7v7h-7zM443 456h6v7h-6zM484 456h7v7h-7zM505 456h7v7h-7zM540 456h7v7h-7zM443 470h6v7h-6zM317 477h7v7h-7zM338 477h7v7h-7zM373 477h7v7h-7zM422 477h7v7h-7zM401 491h7v7h-7zM547 491h7v7h-7zM296 498h7v7h-7zM498 498h7v7h-7zM303 505h7v7h-7zM338 505h7v7h-7zM512 505h7v7h-7zM338 519h7v7h-7zM352 526h14v7h-14zM533 526h7v7h-7zM345 533h14v7h-14zM540 533h7v7h-7zM359 540h7v7h-7zM352 547h7v7h-7zM401 547h7v7h-7zM436 547h13v7h-13zM477 547h7v7h-7zM373 554h7v7h-7zM394 575h7v7h-7z"/>
<path fill="#ffebbe" d="M338 351h7v7h-7zM352 351h7v7h-7zM324 358h7v7h-7zM338 372h7v7h-7zM317 379h7v7h-7zM331 379h14v7h-14zM401 400h7v7h-7zM436 400h7v7h-7zM359 407h7v7h-7zM401 407h7v7h-7zM436 407h7v7h-7zM345 414h7v7h-7zM359 414h7v7h-7zM484 414h7v7h-7zM359 421h7v7h-7zM449 421h7v7h-7zM275 428h7v7h-7zM373 428h7v7h-7zM422 428h7v7h-7zM540 428h7v7h-7zM352 442h7v7h-7zM317 449h7v7h-7zM422 449h7v7h-7zM477 456h7v7h-7zM526 463h7v7h-7zM338 470h7v7h-7zM359 477h7v7h-7zM317 484h7v7h-7zM498 484h7v7h-7zM519 484h7v7h-7zM317 498h7v7h-7zM387 498h7v7h-7zM408 498h7v7h-7zM512 498h7v7h-7zM331 505h7v7h-7zM373 505h7v7h-7zM484 505h7v7h-7zM373 519h7v7h-7zM387 533h14v7h-14zM380 540h7v7h-7zM429 540h7v7h-7zM366 547h7v7h-7zM408 547h7v7h-7zM422 547h7v7h-7zM359 554h7v7h-7zM387 568h7v7h-7zM429 568h7v7h-7z"/>
<path fill="#e9ffbe" d="M345 351h7v7h-7zM331 365h7v7h-7zM366 372h7v7h-7zM317 393h7v7h-7zM352 407h7v7h-7zM512 407h7v7h-7zM491 421h14v7h-14zM401 428h7v7h-7zM449 428h7v7h-7zM401 442h7v7h-7zM415 442h7v7h-7zM436 442h7v7h-7zM470 442h7v7h-7zM359 449h7v7h-7zM380 449h7v7h-7zM436 449h7v7h-7zM477 449h7v7h-7zM540 449h7v7h-7zM456 456h7v7h-7zM443 463h6v7h-6zM540 463h7v7h-7zM380 470h7v7h-7zM408 470h7v7h-7zM491 477h7v7h-7zM317 491h7v7h-7zM498 491h7v7h-7zM429 498h7v7h-7zM540 498h7v7h-7zM296 512h7v7h-7zM540 512h7v7h-7zM366 540h7v7h-7zM484 540h7v7h-7zM373 547h7v7h-7zM470 547h7v7h-7zM512 547h7v7h-7zM338 561h7v7h-7zM380 561h7v7h-7zM422 561h7v7h-7z"/>
<path fill="#e69800" d="M359 351h7v7h-7zM359 358h7v7h-7zM303 379h7v7h-7zM345 386h7v7h-7zM324 393h7v7h-7zM401 393h7v7h-7zM408 400h7v7h-7zM317 407h7v7h-7zM366 414h7v7h-7zM401 414h7v7h-7zM443 414h6v7h-6zM380 421h7v7h-7zM422 421h7v7h-7zM540 421h7v7h-7zM310 428h7v7h-7zM456 428h7v7h-7zM477 428h7v7h-7zM547 428h7v7h-7zM338 435h21v7h-21zM352 449h7v7h-7zM449 449h7v7h-7zM505 463h7v7h-7zM345 470h7v7h-7zM505 470h7v7h-7zM401 477h7v7h-7zM505 477h7v7h-7zM324 484h7v7h-7zM366 505h7v7h-7zM394 505h7v7h-7zM373 512h7v7h-7zM394 512h7v7h-7zM331 519h7v7h-7zM408 533h7v7h-7zM394 540h7v7h-7zM394 554h7v7h-7zM415 554h7v7h-7zM359 561h7v7h-7zM415 561h7v7h-7zM429 561h7v7h-7zM463 561h7v7h-7zM373 568h7v7h-7zM401 568h7v7h-7zM456 568h7v7h-7zM380 575h7v7h-7z"/>
<path fill="#4ce600" d="M317 358h7v7h-7zM345 358h7v7h-7zM310 372h14v7h-14zM359 372h7v7h-7zM296 379h7v7h-7zM289 386h7v7h-7zM310 386h14v7h-14zM331 386h7v7h-7zM303 393h7v7h-7zM338 393h14v7h-14zM373 393h7v7h-7zM470 393h7v7h-7zM289 400h7v7h-7zM303 400h14v7h-14zM324 400h14v7h-14zM345 400h7v7h-7zM505 400h7v7h-7zM296 407h7v7h-7zM345 407h7v7h-7zM505 407h7v7h-7zM387 414h7v7h-7zM463 414h7v7h-7zM505 414h7v7h-7zM436 421h7v7h-7zM470 421h21v7h-21zM505 421h7v7h-7zM282 428h7v7h-7zM324 428h7v7h-7zM338 428h7v7h-7zM352 428h7v7h-7zM366 428h7v7h-7zM380 428h14v7h-14zM429 428h20v7h-20zM463 428h14v7h-14zM498 428h7v7h-7zM512 428h14v7h-14zM533 428h7v7h-7zM296 435h7v7h-7zM324 435h14v7h-14zM387 435h21v7h-21zM422 435h7v7h-7zM436 435h7v7h-7zM463 435h7v7h-7zM484 435h14v7h-14zM533 435h7v7h-7zM296 442h14v7h-14zM324 442h7v7h-7zM359 442h7v7h-7zM380 442h7v7h-7zM394 442h7v7h-7zM408 442h7v7h-7zM463 442h7v7h-7zM484 442h21v7h-21zM533 442h7v7h-7zM303 449h7v7h-7zM331 449h21v7h-21zM387 449h14v7h-14zM456 449h14v7h-14zM491 449h7v7h-7zM533 449h7v7h-7zM310 456h7v7h-7zM338 456h14v7h-14zM359 456h7v7h-7zM387 456h7v7h-7zM422 456h7v7h-7zM470 456h7v7h-7zM526 456h14v7h-14zM317 463h7v7h-7zM338 463h7v7h-7zM359 463h7v7h-7zM373 463h14v7h-14zM394 463h7v7h-7zM415 463h7v7h-7zM429 463h7v7h-7zM463 463h7v7h-7zM477 463h7v7h-7zM491 463h7v7h-7zM512 463h14v7h-14zM317 470h14v7h-14zM366 470h14v7h-14zM401 470h7v7h-7zM415 470h14v7h-14zM436 470h7v7h-7zM456 470h7v7h-7zM498 470h7v7h-7zM519 470h21v7h-21zM547 470h7v7h-7zM331 477h7v7h-7zM352 477h7v7h-7zM366 477h7v7h-7zM449 477h21v7h-21zM519 477h7v7h-7zM533 477h14v7h-14zM512 484h7v7h-7zM540 484h7v7h-7zM554 484h7v7h-7zM310 491h7v7h-7zM338 491h14v7h-14zM380 491h7v7h-7zM394 491h7v7h-7zM512 491h7v7h-7zM533 491h14v7h-14zM554 491h7v7h-7zM310 498h7v7h-7zM324 498h21v7h-21zM380 498h7v7h-7zM547 498h7v7h-7zM296 505h7v7h-7zM310 505h7v7h-7zM380 505h14v7h-14zM401 505h14v7h-14zM429 505h7v7h-7zM491 505h7v7h-7zM540 505h7v7h-7zM303 512h14v7h-14zM331 512h7v7h-7zM359 512h7v7h-7zM401 512h14v7h-14zM498 512h14v7h-14zM526 512h7v7h-7zM317 519h7v7h-7zM345 519h7v7h-7zM491 519h7v7h-7zM505 519h14v7h-14zM540 519h7v7h-7zM338 526h14v7h-14zM366 526h7v7h-7zM380 526h7v7h-7zM498 526h14v7h-14zM526 526h7v7h-7zM547 526h7v7h-7zM331 533h14v7h-14zM526 533h7v7h-7zM345 540h14v7h-14zM498 540h21v7h-21zM526 540h7v7h-7zM345 547h7v7h-7zM387 547h7v7h-7zM429 547h7v7h-7zM401 554h7v7h-7zM512 554h7v7h-7zM352 561h7v7h-7zM401 561h7v7h-7zM436 561h13v7h-13zM373 575h7v7h-7z"/>
<path fill="#267300" d="M338 358h7v7h-7zM359 365h7v7h-7zM324 372h7v7h-7zM296 386h7v7h-7zM275 393h7v7h-7zM296 393h7v7h-7zM331 393h7v7h-7zM289 407h7v7h-7zM331 407h7v7h-7zM387 407h7v7h-7zM498 407h7v7h-7zM498 414h7v7h-7zM366 421h7v7h-7zM317 428h7v7h-7zM526 428h7v7h-7zM289 435h7v7h-7zM310 435h7v7h-7zM429 435h7v7h-7zM282 442h7v7h-7zM310 442h7v7h-7zM505 442h7v7h-7zM296 449h7v7h-7zM408 449h7v7h-7zM429 449h7v7h-7zM498 449h7v7h-7zM512 449h21v7h-21zM408 456h7v7h-7zM498 456h7v7h-7zM519 456h7v7h-7zM310 470h7v7h-7zM387 470h7v7h-7zM310 477h7v7h-7zM387 477h7v7h-7zM310 484h7v7h-7zM387 484h7v7h-7zM282 498h7v7h-7zM289 505h7v7h-7zM282 512h7v7h-7zM380 512h7v7h-7zM303 519h7v7h-7zM324 519h7v7h-7zM526 519h7v7h-7zM554 519h7v7h-7zM317 526h14v7h-14zM373 526h7v7h-7zM519 526h7v7h-7zM380 533h7v7h-7zM505 533h7v7h-7zM331 540h14v7h-14zM415 540h7v7h-7zM338 547h7v7h-7zM338 554h7v7h-7zM366 554h7v7h-7zM387 554h7v7h-7zM470 554h7v7h-7zM387 561h7v7h-7zM359 568h7v7h-7zM408 568h7v7h-7zM443 568h6v7h-6zM366 575h7v7h-7zM401 575h7v7h-7zM394 582h7v6h-7z"/>
<path fill="#38a800" d="M310 365h21v7h-21zM310 379h7v7h-7zM282 386h7v7h-7zM303 386h7v7h-7zM359 386h7v7h-7zM289 393h7v7h-7zM310 393h7v7h-7zM366 393h7v7h-7zM296 400h7v7h-7zM394 400h7v7h-7zM310 407h7v7h-7zM324 407h7v7h-7zM443 407h6v7h-6zM317 414h21v7h-21zM394 414h7v7h-7zM429 414h7v7h-7zM456 414h7v7h-7zM317 421h7v7h-7zM275 435h7v7h-7zM408 435h7v7h-7zM456 435h7v7h-7zM505 435h21v7h-21zM275 442h7v7h-7zM338 442h7v7h-7zM366 442h7v7h-7zM387 442h7v7h-7zM429 442h7v7h-7zM443 442h6v7h-6zM519 442h14v7h-14zM401 449h7v7h-7zM443 449h6v7h-6zM366 456h7v7h-7zM436 456h7v7h-7zM463 456h7v7h-7zM512 456h7v7h-7zM310 463h7v7h-7zM324 463h7v7h-7zM366 463h7v7h-7zM387 463h7v7h-7zM436 463h7v7h-7zM456 463h7v7h-7zM470 463h7v7h-7zM498 463h7v7h-7zM394 470h7v7h-7zM463 470h7v7h-7zM512 470h7v7h-7zM394 477h7v7h-7zM512 477h7v7h-7zM526 477h7v7h-7zM352 484h7v7h-7zM526 484h14v7h-14zM324 491h7v7h-7zM519 491h14v7h-14zM289 498h7v7h-7zM533 498h7v7h-7zM554 498h7v7h-7zM324 505h7v7h-7zM505 505h7v7h-7zM547 505h7v7h-7zM289 512h7v7h-7zM317 512h7v7h-7zM387 512h7v7h-7zM491 512h7v7h-7zM533 512h7v7h-7zM547 512h7v7h-7zM296 519h7v7h-7zM380 519h7v7h-7zM484 519h7v7h-7zM498 519h7v7h-7zM519 519h7v7h-7zM533 519h7v7h-7zM547 519h7v7h-7zM303 526h14v7h-14zM387 526h7v7h-7zM512 526h7v7h-7zM540 526h7v7h-7zM512 533h14v7h-14zM373 540h7v7h-7zM387 540h7v7h-7zM408 540h7v7h-7zM491 540h7v7h-7zM519 540h7v7h-7zM380 547h7v7h-7zM394 547h7v7h-7zM415 547h7v7h-7zM484 547h7v7h-7zM519 547h7v7h-7zM345 554h7v7h-7zM408 554h7v7h-7zM436 554h7v7h-7zM498 554h7v7h-7zM394 561h7v7h-7zM408 561h7v7h-7zM470 561h7v7h-7zM394 568h7v7h-7z"/>
<path fill="#ad6b38" d="M338 365h7v7h-7zM345 372h7v7h-7zM359 393h7v7h-7zM512 400h7v7h-7zM408 414h14v7h-14zM387 421h7v7h-7zM533 421h7v7h-7zM345 428h7v7h-7zM540 442h7v7h-7zM324 456h7v7h-7zM554 477h7v7h-7zM331 491h7v7h-7zM352 491h7v7h-7zM359 498h14v7h-14zM359 533h7v7h-7zM401 540h7v7h-7zM359 547h7v7h-7zM449 554h7v7h-7zM366 568h7v7h-7zM408 575h7v7h-7z"/>
<path fill="#ffaa00" d="M345 365h7v7h-7zM324 379h7v7h-7zM338 414h7v7h-7zM415 421h7v7h-7zM505 428h7v7h-7zM477 435h7v7h-7zM317 442h7v7h-7zM449 456h7v7h-7zM394 498h7v7h-7zM512 512h7v7h-7zM366 561h7v7h-7z"/>
<path fill="#ffffff" d="M352 365h7v7h-7zM331 372h7v7h-7zM345 379h14v7h-14zM275 386h7v7h-7zM366 386h7v7h-7zM352 393h7v7h-7zM359 400h14v7h-14zM443 400h6v7h-6zM338 407h7v7h-7zM366 407h7v7h-7zM394 407h7v7h-7zM408 407h7v7h-7zM429 407h7v7h-7zM352 421h7v7h-7zM401 421h7v7h-7zM443 421h6v7h-6zM547 421h7v7h-7zM408 428h7v7h-7zM491 428h7v7h-7zM268 435h7v7h-7zM303 435h7v7h-7zM449 435h7v7h-7zM498 435h7v7h-7zM289 442h7v7h-7zM456 442h7v7h-7zM324 449h7v7h-7zM394 456h14v7h-14zM345 463h7v7h-7zM408 463h7v7h-7zM331 470h7v7h-7zM359 470h7v7h-7zM345 477h7v7h-7zM415 477h7v7h-7zM547 477h7v7h-7zM345 484h7v7h-7zM443 484h13v7h-13zM491 484h7v7h-7zM505 484h7v7h-7zM387 491h7v7h-7zM470 491h7v7h-7zM491 491h7v7h-7zM303 498h7v7h-7zM352 498h7v7h-7zM526 498h7v7h-7zM352 505h14v7h-14zM526 505h14v7h-14zM554 505h7v7h-7zM324 512h7v7h-7zM338 512h7v7h-7zM484 512h7v7h-7zM554 512h7v7h-7zM401 519h7v7h-7zM422 519h7v7h-7zM366 533h14v7h-14zM415 533h7v7h-7zM422 540h7v7h-7zM505 547h7v7h-7zM380 554h7v7h-7zM443 554h6v7h-6zM477 554h7v7h-7zM456 561h7v7h-7z"/>
<path fill="#a3ff73" d="M303 372h7v7h-7zM366 379h7v7h-7zM324 386h7v7h-7zM338 386h7v7h-7zM352 386h7v7h-7zM463 386h7v7h-7zM317 400h7v7h-7zM352 400h7v7h-7zM436 414h7v7h-7zM512 414h14v7h-14zM331 421h14v7h-14zM408 421h7v7h-7zM512 421h7v7h-7zM394 428h7v7h-7zM359 435h7v7h-7zM373 435h14v7h-14zM415 435h7v7h-7zM526 435h7v7h-7zM373 442h7v7h-7zM449 442h7v7h-7zM512 442h7v7h-7zM310 449h7v7h-7zM366 449h7v7h-7zM415 449h7v7h-7zM484 449h7v7h-7zM505 449h7v7h-7zM331 456h7v7h-7zM415 456h7v7h-7zM401 463h7v7h-7zM422 463h7v7h-7zM484 463h7v7h-7zM352 470h7v7h-7zM449 470h7v7h-7zM491 470h7v7h-7zM498 477h7v7h-7zM394 484h14v7h-14zM415 498h7v7h-7zM317 505h7v7h-7zM345 505h7v7h-7zM498 505h7v7h-7zM519 505h7v7h-7zM345 512h14v7h-14zM310 519h7v7h-7zM394 519h7v7h-7zM533 533h7v7h-7zM484 554h14v7h-14zM449 561h7v7h-7zM505 561h7v7h-7z"/>
<path fill="#e1e1e1" d="M352 372h7v7h-7zM463 421h7v7h-7zM470 470h14v7h-14zM380 477h7v7h-7zM408 477h7v7h-7zM429 477h20v7h-20zM470 477h21v7h-21zM359 484h28v7h-28zM408 484h35v7h-35zM456 484h35v7h-35zM359 491h21v7h-21zM408 491h62v7h-62zM477 491h14v7h-14zM401 498h7v7h-7zM422 498h7v7h-7zM436 498h62v7h-62zM415 505h14v7h-14zM436 505h48v7h-48zM415 512h69v7h-69zM408 519h14v7h-14zM429 519h55v7h-55zM394 526h104v7h-104zM401 533h7v7h-7zM422 533h76v7h-76zM436 540h48v7h-48zM449 547h21v7h-21zM456 554h7v7h-7zM373 561h7v7h-7z"/>
<path fill="#ffd37f" d="M359 379h7v7h-7zM394 393h7v7h-7zM352 414h7v7h-7zM282 435h7v7h-7zM352 463h7v7h-7zM429 470h7v7h-7zM331 484h7v7h-7zM505 491h7v7h-7zM345 498h7v7h-7zM373 498h7v7h-7zM366 512h7v7h-7zM387 519h7v7h-7zM498 533h7v7h-7zM491 547h7v7h-7zM352 554h7v7h-7zM463 554h7v7h-7zM380 568h7v7h-7zM415 568h7v7h-7zM449 568h7v7h-7z"/>
<path fill="#55ff00" d="M282 393h7v7h-7zM422 407h7v7h-7zM477 414h7v7h-7zM359 428h7v7h-7zM415 428h7v7h-7zM317 435h7v7h-7zM443 435h6v7h-6zM373 449h7v7h-7zM352 456h7v7h-7zM380 456h7v7h-7zM491 456h7v7h-7zM331 463h7v7h-7zM449 463h7v7h-7zM533 463h7v7h-7zM484 470h7v7h-7zM540 470h7v7h-7zM324 477h7v7h-7zM338 484h7v7h-7zM547 484h7v7h-7zM561 484h7v7h-7zM505 498h7v7h-7zM519 498h7v7h-7zM519 512h7v7h-7zM282 519h7v7h-7zM352 519h21v7h-21zM331 526h7v7h-7zM533 540h7v7h-7zM498 547h7v7h-7z"/>
<path fill="#9c5221" d="M449 414h7v7h-7zM422 442h7v7h-7zM429 456h7v7h-7zM303 470h7v7h-7zM282 505h7v7h-7zM422 554h14v7h-14zM505 554h7v7h-7zM387 575h7v7h-7z"/>
</g>
<rect x="255.3" y="329.6" width="333.1" height="280.5" fill="none" stroke="#000" stroke-width="1.7"/>
<text transform="translate(248.15 350.05) scale(1.02 1)" text-anchor="end" font-family="Liberation Sans, Arial, sans-serif" font-size="10.7" stroke="#000" stroke-width="0.2">66°N</text>
<text transform="translate(248.15 423.05) scale(1.02 1)" text-anchor="end" font-family="Liberation Sans, Arial, sans-serif" font-size="10.7" stroke="#000" stroke-width="0.2">65°N</text>
<text transform="translate(248.15 496.05) scale(1.02 1)" text-anchor="end" font-family="Liberation Sans, Arial, sans-serif" font-size="10.7" stroke="#000" stroke-width="0.2">64°N</text>
<text transform="translate(248.15 568.85) scale(1.02 1)" text-anchor="end" font-family="Liberation Sans, Arial, sans-serif" font-size="10.7" stroke="#000" stroke-width="0.2">63°N</text>
<text transform="translate(594.45 335.25) scale(1.02 1)" font-family="Liberation Sans, Arial, sans-serif" font-size="10.7" stroke="#000" stroke-width="0.2">68°N</text>
<text transform="translate(594.45 402.85) scale(1.02 1)" font-family="Liberation Sans, Arial, sans-serif" font-size="10.7" stroke="#000" stroke-width="0.2">67°N</text>
<text transform="translate(594.45 470.55) scale(1.02 1)" font-family="Liberation Sans, Arial, sans-serif" font-size="10.7" stroke="#000" stroke-width="0.2">66°N</text>
<text transform="translate(594.45 538.25) scale(1.02 1)" font-family="Liberation Sans, Arial, sans-serif" font-size="10.7" stroke="#000" stroke-width="0.2">65°N</text>
<text transform="translate(594.45 605.85) scale(1.02 1)" font-family="Liberation Sans, Arial, sans-serif" font-size="10.7" stroke="#000" stroke-width="0.2">64°N</text>
<text transform="translate(307.00 321.10) scale(1.02 1)" text-anchor="middle" font-family="Liberation Sans, Arial, sans-serif" font-size="10.7" stroke="#000" stroke-width="0.2">25°W</text>
<text transform="translate(445.60 321.10) scale(1.02 1)" text-anchor="middle" font-family="Liberation Sans, Arial, sans-serif" font-size="10.7" stroke="#000" stroke-width="0.2">20°W</text>
<text transform="translate(575.30 321.10) scale(1.02 1)" text-anchor="middle" font-family="Liberation Sans, Arial, sans-serif" font-size="10.7" stroke="#000" stroke-width="0.2">15°W</text>
<text transform="translate(343.20 626.70) scale(1.02 1)" text-anchor="middle" font-family="Liberation Sans, Arial, sans-serif" font-size="10.7" stroke="#000" stroke-width="0.2">20°W</text>
<text transform="translate(500.10 626.70) scale(1.02 1)" text-anchor="middle" font-family="Liberation Sans, Arial, sans-serif" font-size="10.7" stroke="#000" stroke-width="0.2">15°W</text>
<path d="M248.5 345.8H255.3M248.5 418.8H255.3M248.5 491.8H255.3M248.5 564.6H255.3M588.4 331.4H594.4M588.4 399.0H594.4M588.4 466.7H594.4M588.4 534.4H594.4M588.4 602.0H594.4M307.0 329.6V323.8M445.6 329.6V323.8M575.3 329.6V323.8M343.2 610.1V616.0M500.1 610.1V616.0" stroke="#000" stroke-width="1.3" fill="none"/>
<text transform="translate(430.10 355.10) scale(0.985 1)" font-family="Liberation Sans, Arial, sans-serif" font-size="15.4" font-weight="bold">1990 - 1999</text>
<text transform="translate(264.95 586.65) scale(1.05 1)" font-family="Liberation Sans, Arial, sans-serif" font-size="16.8" font-weight="bold">(c)</text>
<rect x="655.0" y="325.8" width="337.8" height="282.4" fill="#bed2ff"/>
<g shape-rendering="crispEdges" filter="url(#bl)">
<path fill="#ffffff" d="M733 348h7v7h-7zM726 369h14v7h-14zM747 376h14v7h-14zM677 383h7v7h-7zM719 383h7v7h-7zM747 383h14v7h-14zM712 390h7v7h-7zM775 390h7v7h-7zM698 397h7v7h-7zM733 397h14v7h-14zM803 397h7v7h-7zM838 397h7v7h-7zM691 404h14v7h-14zM726 404h21v7h-21zM761 404h7v7h-7zM838 404h7v7h-7zM719 411h7v7h-7zM747 411h7v7h-7zM761 411h7v7h-7zM803 411h7v7h-7zM851 411h7v7h-7zM907 411h7v7h-7zM921 411h7v7h-7zM768 418h7v7h-7zM796 418h14v7h-14zM914 418h7v7h-7zM740 425h7v7h-7zM775 425h7v7h-7zM796 425h14v7h-14zM824 425h14v7h-14zM879 425h7v7h-7zM670 432h7v7h-7zM684 432h7v7h-7zM775 432h14v7h-14zM796 432h7v7h-7zM817 432h7v7h-7zM845 432h13v7h-13zM872 432h7v7h-7zM893 432h14v7h-14zM914 432h7v7h-7zM712 439h14v7h-14zM733 439h14v7h-14zM768 439h14v7h-14zM789 439h7v7h-7zM810 439h7v7h-7zM851 439h7v7h-7zM921 439h7v7h-7zM935 439h7v7h-7zM754 446h7v7h-7zM768 446h7v7h-7zM824 446h7v7h-7zM872 446h7v7h-7zM942 446h7v7h-7zM726 453h7v7h-7zM740 453h7v7h-7zM907 453h14v7h-14zM740 460h7v7h-7zM768 460h7v7h-7zM789 460h7v7h-7zM838 460h7v7h-7zM928 460h7v7h-7zM754 467h7v7h-7zM768 467h7v7h-7zM803 467h7v7h-7zM935 467h7v7h-7zM726 474h7v7h-7zM747 474h14v7h-14zM817 474h7v7h-7zM893 474h7v7h-7zM942 474h14v7h-14zM747 481h14v7h-14zM893 481h7v7h-7zM740 488h7v7h-7zM900 488h7v7h-7zM928 488h7v7h-7zM942 488h7v7h-7zM712 495h7v7h-7zM733 495h7v7h-7zM747 495h7v7h-7zM768 495h7v7h-7zM817 495h7v7h-7zM900 495h7v7h-7zM914 495h14v7h-14zM935 495h14v7h-14zM726 502h14v7h-14zM747 502h7v7h-7zM761 502h7v7h-7zM886 502h7v7h-7zM949 502h7v7h-7zM733 509h7v7h-7zM761 509h7v7h-7zM893 509h7v7h-7zM935 509h7v7h-7zM705 516h7v7h-7zM719 516h14v7h-14zM747 516h14v7h-14zM789 516h7v7h-7zM803 516h7v7h-7zM824 516h7v7h-7zM893 516h7v7h-7zM949 516h7v7h-7zM705 523h7v7h-7zM761 523h7v7h-7zM900 523h7v7h-7zM747 530h7v7h-7zM810 530h7v7h-7zM754 537h7v7h-7zM747 544h7v7h-7zM761 544h7v7h-7zM775 544h7v7h-7zM845 544h6v7h-6zM879 544h7v7h-7zM754 551h7v7h-7zM782 551h7v7h-7zM810 551h7v7h-7zM824 551h7v7h-7zM865 551h7v7h-7zM754 558h7v6h-7zM803 558h14v6h-14zM831 558h7v6h-7zM865 558h14v6h-14zM768 564h7v7h-7zM810 564h7v7h-7zM775 571h7v7h-7zM810 571h7v7h-7z"/>
<path fill="#e69800" d="M740 348h14v7h-14zM712 362h7v7h-7zM726 362h7v7h-7zM761 369h7v7h-7zM712 376h7v7h-7zM726 376h7v7h-7zM698 383h7v7h-7zM740 383h7v7h-7zM684 390h7v7h-7zM698 390h7v7h-7zM733 390h7v7h-7zM761 390h7v7h-7zM719 397h7v7h-7zM796 397h7v7h-7zM845 397h6v7h-6zM914 397h7v7h-7zM719 404h7v7h-7zM754 404h7v7h-7zM831 404h7v7h-7zM914 404h7v7h-7zM740 411h7v7h-7zM754 411h7v7h-7zM824 411h7v7h-7zM719 418h7v7h-7zM740 418h14v7h-14zM775 418h14v7h-14zM719 425h14v7h-14zM754 425h14v7h-14zM872 425h7v7h-7zM886 425h7v7h-7zM921 425h7v7h-7zM935 425h7v7h-7zM712 432h7v7h-7zM761 432h7v7h-7zM810 432h7v7h-7zM838 432h7v7h-7zM921 432h7v7h-7zM754 439h7v7h-7zM796 439h14v7h-14zM761 446h7v7h-7zM858 446h7v7h-7zM712 453h7v7h-7zM733 453h7v7h-7zM761 453h7v7h-7zM810 453h7v7h-7zM935 453h7v7h-7zM824 460h7v7h-7zM845 460h6v7h-6zM838 467h7v7h-7zM914 467h21v7h-21zM942 467h7v7h-7zM824 474h7v7h-7zM914 474h7v7h-7zM914 481h21v7h-21zM942 481h7v7h-7zM963 481h7v7h-7zM754 488h7v7h-7zM782 495h14v7h-14zM831 495h7v7h-7zM907 495h7v7h-7zM949 495h7v7h-7zM684 502h7v7h-7zM782 502h7v7h-7zM803 502h14v7h-14zM831 502h7v7h-7zM900 502h7v7h-7zM914 502h7v7h-7zM928 502h14v7h-14zM956 502h7v7h-7zM691 509h7v7h-7zM775 509h7v7h-7zM789 509h7v7h-7zM928 509h7v7h-7zM949 509h7v7h-7zM796 516h7v7h-7zM921 516h7v7h-7zM942 516h7v7h-7zM726 523h7v7h-7zM949 523h7v7h-7zM782 530h7v7h-7zM914 530h7v7h-7zM935 530h7v7h-7zM768 537h7v7h-7zM796 537h7v7h-7zM817 537h7v7h-7zM907 537h7v7h-7zM796 544h14v7h-14zM914 551h7v7h-7zM740 558h7v6h-7zM838 558h7v6h-7zM831 564h7v7h-7z"/>
<path fill="#d3ffbe" d="M754 348h7v7h-7zM754 355h7v7h-7zM712 369h7v7h-7zM705 390h7v7h-7zM796 390h7v7h-7zM768 397h7v7h-7zM803 404h7v7h-7zM789 411h7v7h-7zM900 411h7v7h-7zM879 418h7v7h-7zM921 418h7v7h-7zM768 425h7v7h-7zM928 425h7v7h-7zM691 432h14v7h-14zM740 432h7v7h-7zM698 439h7v7h-7zM726 439h7v7h-7zM817 439h14v7h-14zM858 439h7v7h-7zM879 439h7v7h-7zM705 446h7v7h-7zM733 446h7v7h-7zM747 446h7v7h-7zM907 446h7v7h-7zM719 453h7v7h-7zM796 453h7v7h-7zM824 453h7v7h-7zM914 460h14v7h-14zM740 467h7v7h-7zM761 467h7v7h-7zM775 467h14v7h-14zM907 467h7v7h-7zM733 474h14v7h-14zM733 481h7v7h-7zM747 488h7v7h-7zM914 488h14v7h-14zM956 488h7v7h-7zM698 502h7v7h-7zM754 502h7v7h-7zM893 502h7v7h-7zM921 502h7v7h-7zM768 509h7v7h-7zM733 516h14v7h-14zM712 523h7v7h-7zM733 523h7v7h-7zM775 523h7v7h-7zM831 537h7v7h-7zM789 544h7v7h-7zM838 551h7v7h-7zM817 564h7v7h-7z"/>
<path fill="#9c5221" d="M761 348h7v7h-7zM761 355h7v7h-7zM761 362h7v7h-7zM845 404h6v7h-6zM817 418h7v7h-7zM705 467h7v7h-7zM928 523h7v7h-7zM775 537h14v7h-14zM893 537h7v7h-7zM782 544h7v7h-7zM838 544h7v7h-7zM740 551h7v7h-7zM775 551h7v7h-7zM872 551h7v7h-7zM858 558h7v6h-7z"/>
<path fill="#ffaa00" d="M719 355h7v7h-7zM705 369h7v7h-7zM719 369h7v7h-7zM761 376h7v7h-7zM691 390h7v7h-7zM768 390h7v7h-7zM726 397h7v7h-7zM942 418h7v7h-7zM775 446h7v7h-7zM754 453h7v7h-7zM768 453h7v7h-7zM900 453h7v7h-7zM782 460h7v7h-7zM858 460h7v7h-7zM789 481h7v7h-7zM893 488h7v7h-7zM691 495h14v7h-14zM761 495h7v7h-7zM796 509h7v7h-7zM914 509h7v7h-7zM907 516h7v7h-7zM733 530h7v7h-7zM789 530h7v7h-7zM900 544h7v7h-7zM789 551h7v7h-7zM831 551h7v7h-7zM886 551h7v7h-7zM782 558h7v6h-7zM782 571h7v7h-7z"/>
<path fill="#ad6b38" d="M726 355h7v7h-7zM747 355h7v7h-7zM747 362h7v7h-7zM740 369h14v7h-14zM684 383h7v7h-7zM712 383h7v7h-7zM726 383h14v7h-14zM761 383h14v7h-14zM865 383h7v7h-7zM803 390h7v7h-7zM747 397h7v7h-7zM817 404h7v7h-7zM726 411h7v7h-7zM768 411h7v7h-7zM796 411h7v7h-7zM845 411h6v7h-6zM858 411h14v7h-14zM914 411h7v7h-7zM726 418h7v7h-7zM810 418h7v7h-7zM845 418h13v7h-13zM949 418h7v7h-7zM810 425h7v7h-7zM893 425h7v7h-7zM942 425h14v7h-14zM858 432h7v7h-7zM907 432h7v7h-7zM684 439h14v7h-14zM900 439h7v7h-7zM893 446h7v7h-7zM935 446h7v7h-7zM803 453h7v7h-7zM928 453h7v7h-7zM942 453h7v7h-7zM719 474h7v7h-7zM775 474h7v7h-7zM935 474h7v7h-7zM719 481h7v7h-7zM949 488h7v7h-7zM705 495h7v7h-7zM956 495h7v7h-7zM921 509h7v7h-7zM956 509h7v7h-7zM782 516h7v7h-7zM928 516h7v7h-7zM719 523h7v7h-7zM921 523h7v7h-7zM935 523h7v7h-7zM817 530h7v7h-7zM733 537h7v7h-7zM803 537h7v7h-7zM914 537h7v7h-7zM935 537h7v7h-7zM831 544h7v7h-7zM886 544h7v7h-7zM907 544h7v7h-7zM768 551h7v7h-7zM796 551h7v7h-7zM851 551h7v7h-7zM789 558h7v6h-7zM851 564h14v7h-14z"/>
<path fill="#e9ffbe" d="M740 355h7v7h-7zM719 390h7v7h-7zM754 390h7v7h-7zM712 397h7v7h-7zM810 404h7v7h-7zM831 418h7v7h-7zM677 425h7v7h-7zM733 425h7v7h-7zM845 425h6v7h-6zM914 425h7v7h-7zM705 439h7v7h-7zM761 439h7v7h-7zM928 439h7v7h-7zM796 446h7v7h-7zM838 446h7v7h-7zM851 446h7v7h-7zM719 460h21v7h-21zM775 460h7v7h-7zM719 467h7v7h-7zM733 467h7v7h-7zM893 467h7v7h-7zM907 474h7v7h-7zM803 481h7v7h-7zM845 481h6v7h-6zM740 495h7v7h-7zM705 502h7v7h-7zM684 509h7v7h-7zM705 509h7v7h-7zM747 509h14v7h-14zM900 509h7v7h-7zM747 523h14v7h-14zM942 523h7v7h-7zM928 530h7v7h-7zM761 537h7v7h-7zM747 551h7v7h-7zM803 551h7v7h-7zM900 551h14v7h-14zM817 558h7v6h-7zM761 564h7v7h-7z"/>
<path fill="#267300" d="M719 362h7v7h-7zM733 411h7v7h-7zM865 432h7v7h-7zM879 432h7v7h-7zM886 446h7v7h-7zM712 460h7v7h-7zM810 460h7v7h-7zM893 460h7v7h-7zM942 460h7v7h-7zM712 467h7v7h-7zM858 467h7v7h-7zM886 467h7v7h-7zM928 474h7v7h-7zM796 481h7v7h-7zM796 488h7v7h-7zM782 509h7v7h-7zM803 509h7v7h-7zM775 530h7v7h-7zM768 571h7v7h-7z"/>
<path fill="#38a800" d="M733 362h14v7h-14zM740 376h7v7h-7zM677 390h7v7h-7zM691 397h7v7h-7zM900 404h7v7h-7zM733 418h7v7h-7zM858 418h7v7h-7zM907 418h7v7h-7zM851 425h7v7h-7zM677 432h7v7h-7zM705 432h7v7h-7zM886 460h7v7h-7zM726 467h7v7h-7zM789 467h7v7h-7zM831 467h7v7h-7zM845 467h6v7h-6zM851 474h14v7h-14zM900 481h7v7h-7zM872 488h7v7h-7zM789 502h7v7h-7zM900 516h7v7h-7zM789 537h7v7h-7zM879 551h7v7h-7zM775 564h7v7h-7zM789 571h7v7h-7z"/>
<path fill="#ffebbe" d="M754 362h7v7h-7zM719 376h7v7h-7zM740 390h14v7h-14zM754 397h7v7h-7zM810 397h7v7h-7zM712 404h7v7h-7zM747 404h7v7h-7zM768 404h7v7h-7zM796 404h7v7h-7zM817 411h7v7h-7zM879 411h7v7h-7zM761 418h7v7h-7zM824 418h7v7h-7zM838 418h7v7h-7zM872 418h7v7h-7zM886 418h14v7h-14zM712 425h7v7h-7zM747 425h7v7h-7zM858 425h7v7h-7zM900 425h14v7h-14zM824 432h7v7h-7zM928 432h14v7h-14zM831 439h7v7h-7zM719 446h7v7h-7zM789 446h7v7h-7zM803 446h7v7h-7zM879 446h7v7h-7zM900 446h7v7h-7zM921 446h7v7h-7zM775 453h7v7h-7zM838 453h7v7h-7zM858 453h7v7h-7zM921 453h7v7h-7zM754 460h7v7h-7zM865 460h7v7h-7zM879 460h7v7h-7zM907 460h7v7h-7zM810 467h7v7h-7zM851 467h7v7h-7zM865 467h7v7h-7zM900 467h7v7h-7zM761 474h14v7h-14zM789 474h7v7h-7zM956 474h7v7h-7zM712 481h7v7h-7zM740 481h7v7h-7zM719 488h7v7h-7zM789 488h7v7h-7zM907 488h7v7h-7zM935 488h7v7h-7zM754 495h7v7h-7zM775 495h7v7h-7zM691 502h7v7h-7zM740 502h7v7h-7zM768 502h7v7h-7zM907 502h7v7h-7zM698 509h7v7h-7zM726 509h7v7h-7zM907 509h7v7h-7zM956 516h7v7h-7zM768 523h7v7h-7zM789 523h7v7h-7zM796 530h7v7h-7zM907 530h7v7h-7zM921 530h7v7h-7zM747 537h7v7h-7zM886 537h7v7h-7zM900 537h7v7h-7zM740 544h7v7h-7zM810 544h14v7h-14zM893 544h7v7h-7zM921 544h7v7h-7zM817 551h7v7h-7zM845 551h6v7h-6zM893 551h7v7h-7zM768 558h7v6h-7zM824 558h7v6h-7zM845 558h13v6h-13zM796 564h7v7h-7zM845 564h6v7h-6zM796 571h7v7h-7z"/>
<path fill="#e1e1e1" d="M754 369h7v7h-7zM865 418h7v7h-7zM872 467h14v7h-14zM782 474h7v7h-7zM810 474h7v7h-7zM831 474h20v7h-20zM872 474h21v7h-21zM761 481h28v7h-28zM810 481h35v7h-35zM858 481h35v7h-35zM761 488h21v7h-21zM810 488h62v7h-62zM879 488h14v7h-14zM803 495h7v7h-7zM824 495h7v7h-7zM838 495h62v7h-62zM817 502h14v7h-14zM838 502h48v7h-48zM817 509h69v7h-69zM810 516h14v7h-14zM831 516h55v7h-55zM796 523h104v7h-104zM803 530h7v7h-7zM824 530h76v7h-76zM838 537h48v7h-48zM851 544h21v7h-21zM858 551h7v7h-7zM775 558h7v6h-7z"/>
<path fill="#ffd37f" d="M768 369h7v7h-7zM698 376h7v7h-7zM733 376h7v7h-7zM768 376h7v7h-7zM761 397h7v7h-7zM886 411h7v7h-7zM789 418h7v7h-7zM900 418h7v7h-7zM935 418h7v7h-7zM684 425h7v7h-7zM838 425h7v7h-7zM747 432h7v7h-7zM782 439h7v7h-7zM872 439h7v7h-7zM942 439h7v7h-7zM782 446h7v7h-7zM810 446h7v7h-7zM782 453h7v7h-7zM817 453h7v7h-7zM879 453h7v7h-7zM761 460h7v7h-7zM949 467h7v7h-7zM712 474h7v7h-7zM921 474h7v7h-7zM935 481h7v7h-7zM796 502h7v7h-7zM886 509h7v7h-7zM684 516h7v7h-7zM698 516h7v7h-7zM782 523h7v7h-7zM907 523h7v7h-7zM768 530h7v7h-7zM921 537h14v7h-14zM824 544h7v7h-7zM803 564h7v7h-7z"/>
<path fill="#4ce600" d="M705 376h7v7h-7zM726 390h7v7h-7zM872 390h7v7h-7zM789 404h7v7h-7zM824 404h7v7h-7zM810 411h7v7h-7zM838 411h7v7h-7zM817 425h7v7h-7zM865 425h7v7h-7zM719 432h14v7h-14zM754 432h7v7h-7zM831 432h7v7h-7zM886 432h7v7h-7zM677 439h7v7h-7zM747 439h7v7h-7zM838 439h7v7h-7zM865 439h7v7h-7zM886 439h14v7h-14zM907 439h14v7h-14zM698 446h7v7h-7zM740 446h7v7h-7zM817 446h7v7h-7zM831 446h7v7h-7zM865 446h7v7h-7zM914 446h7v7h-7zM789 453h7v7h-7zM851 453h7v7h-7zM865 453h14v7h-14zM893 453h7v7h-7zM747 460h7v7h-7zM796 460h14v7h-14zM817 460h7v7h-7zM831 460h7v7h-7zM935 460h7v7h-7zM747 467h7v7h-7zM796 467h7v7h-7zM824 467h7v7h-7zM796 474h14v7h-14zM865 474h7v7h-7zM900 474h7v7h-7zM726 481h7v7h-7zM851 481h7v7h-7zM949 481h14v7h-14zM712 488h7v7h-7zM726 488h7v7h-7zM782 488h7v7h-7zM803 488h7v7h-7zM684 495h7v7h-7zM719 495h7v7h-7zM810 495h7v7h-7zM928 495h7v7h-7zM775 502h7v7h-7zM810 509h7v7h-7zM942 509h7v7h-7zM712 516h7v7h-7zM761 516h21v7h-21zM914 516h7v7h-7zM935 516h7v7h-7zM740 523h7v7h-7zM914 523h7v7h-7zM740 530h7v7h-7zM761 530h7v7h-7zM942 530h7v7h-7zM740 537h7v7h-7zM754 544h7v7h-7zM914 544h7v7h-7zM761 551h7v7h-7zM796 558h7v6h-7zM907 558h7v6h-7zM782 564h7v7h-7zM803 571h7v7h-7zM796 578h7v7h-7z"/>
<path fill="#a3ff73" d="M691 383h7v7h-7zM705 383h7v7h-7zM705 397h7v7h-7zM907 397h7v7h-7zM907 404h7v7h-7zM733 432h7v7h-7zM768 432h7v7h-7zM789 432h7v7h-7zM845 439h6v7h-6zM726 446h7v7h-7zM845 446h6v7h-6zM928 446h7v7h-7zM747 453h7v7h-7zM831 453h7v7h-7zM886 453h7v7h-7zM851 460h7v7h-7zM900 460h7v7h-7zM817 467h7v7h-7zM726 495h7v7h-7zM796 495h7v7h-7zM719 502h7v7h-7zM942 502h7v7h-7zM712 509h14v7h-14zM754 530h7v7h-7zM900 530h7v7h-7zM810 537h7v7h-7zM824 537h7v7h-7zM768 544h7v7h-7zM761 558h7v6h-7z"/>
<path fill="#55ff00" d="M831 411h7v7h-7zM754 418h7v7h-7zM782 425h14v7h-14zM803 432h7v7h-7zM712 446h7v7h-7zM845 453h6v7h-6zM872 460h7v7h-7zM907 481h7v7h-7zM733 488h7v7h-7zM712 502h7v7h-7zM740 509h7v7h-7zM886 516h7v7h-7zM872 544h7v7h-7zM789 564h7v7h-7z"/>
</g>
<rect x="655.0" y="325.8" width="337.8" height="282.4" fill="none" stroke="#000" stroke-width="1.7"/>
<text transform="translate(647.85 345.05) scale(1.02 1)" text-anchor="end" font-family="Liberation Sans, Arial, sans-serif" font-size="10.7" stroke="#000" stroke-width="0.2">66°N</text>
<text transform="translate(647.85 417.85) scale(1.02 1)" text-anchor="end" font-family="Liberation Sans, Arial, sans-serif" font-size="10.7" stroke="#000" stroke-width="0.2">65°N</text>
<text transform="translate(647.85 490.75) scale(1.02 1)" text-anchor="end" font-family="Liberation Sans, Arial, sans-serif" font-size="10.7" stroke="#000" stroke-width="0.2">64°N</text>
<text transform="translate(647.85 563.55) scale(1.02 1)" text-anchor="end" font-family="Liberation Sans, Arial, sans-serif" font-size="10.7" stroke="#000" stroke-width="0.2">63°N</text>
<text transform="translate(998.85 332.55) scale(1.02 1)" font-family="Liberation Sans, Arial, sans-serif" font-size="10.7" stroke="#000" stroke-width="0.2">68°N</text>
<text transform="translate(998.85 400.05) scale(1.02 1)" font-family="Liberation Sans, Arial, sans-serif" font-size="10.7" stroke="#000" stroke-width="0.2">67°N</text>
<text transform="translate(998.85 467.55) scale(1.02 1)" font-family="Liberation Sans, Arial, sans-serif" font-size="10.7" stroke="#000" stroke-width="0.2">66°N</text>
<text transform="translate(998.85 535.05) scale(1.02 1)" font-family="Liberation Sans, Arial, sans-serif" font-size="10.7" stroke="#000" stroke-width="0.2">65°N</text>
<text transform="translate(998.85 602.45) scale(1.02 1)" font-family="Liberation Sans, Arial, sans-serif" font-size="10.7" stroke="#000" stroke-width="0.2">64°N</text>
<text transform="translate(709.50 317.30) scale(1.02 1)" text-anchor="middle" font-family="Liberation Sans, Arial, sans-serif" font-size="10.7" stroke="#000" stroke-width="0.2">25°W</text>
<text transform="translate(847.60 317.30) scale(1.02 1)" text-anchor="middle" font-family="Liberation Sans, Arial, sans-serif" font-size="10.7" stroke="#000" stroke-width="0.2">20°W</text>
<text transform="translate(977.40 317.30) scale(1.02 1)" text-anchor="middle" font-family="Liberation Sans, Arial, sans-serif" font-size="10.7" stroke="#000" stroke-width="0.2">15°W</text>
<text transform="translate(745.00 624.80) scale(1.02 1)" text-anchor="middle" font-family="Liberation Sans, Arial, sans-serif" font-size="10.7" stroke="#000" stroke-width="0.2">20°W</text>
<text transform="translate(902.10 624.80) scale(1.02 1)" text-anchor="middle" font-family="Liberation Sans, Arial, sans-serif" font-size="10.7" stroke="#000" stroke-width="0.2">15°W</text>
<path d="M648.1 341.2H655.0M648.1 414.0H655.0M648.1 486.9H655.0M648.1 559.7H655.0M992.8 328.7H998.8M992.8 396.2H998.8M992.8 463.7H998.8M992.8 531.2H998.8M992.8 598.6H998.8M709.5 325.8V319.9M847.6 325.8V319.9M977.4 325.8V319.9M745.0 608.2V614.1M902.1 608.2V614.1" stroke="#000" stroke-width="1.3" fill="none"/>
<text transform="translate(823.30 354.90) scale(0.985 1)" font-family="Liberation Sans, Arial, sans-serif" font-size="15.4" font-weight="bold">2000 - 2010</text>
<text transform="translate(662.65 586.80) scale(1.05 1)" font-family="Liberation Sans, Arial, sans-serif" font-size="16.8" font-weight="bold">(d)</text>
<path d="M867.4 583.3V592.3H979.3V583.3M881.4 592.3v-5.5M895.4 592.3v-5.5M909.4 592.3v-5.5M923.3 592.3v-9M937.3 592.3v-5.5M951.3 592.3v-5.5M965.3 592.3v-5.5" stroke="#000" stroke-width="1.2" fill="none"/>
<text transform="translate(867.40 578.80) scale(1.02 1)" text-anchor="middle" font-family="Liberation Sans, Arial, sans-serif" font-size="10.5" stroke="#000" stroke-width="0.2">0</text>
<text transform="translate(895.30 578.80) scale(1.02 1)" text-anchor="middle" font-family="Liberation Sans, Arial, sans-serif" font-size="10.5" stroke="#000" stroke-width="0.2">50</text>
<text transform="translate(923.20 578.80) scale(1.02 1)" text-anchor="middle" font-family="Liberation Sans, Arial, sans-serif" font-size="10.5" stroke="#000" stroke-width="0.2">100</text>
<text transform="translate(979.00 578.80) scale(1.02 1)" text-anchor="middle" font-family="Liberation Sans, Arial, sans-serif" font-size="10.5" stroke="#000" stroke-width="0.2">200</text>
<text transform="translate(923.00 602.20) scale(1.02 1)" text-anchor="middle" font-family="Liberation Sans, Arial, sans-serif" font-size="11" stroke="#000" stroke-width="0.2">Kilometers</text>
<text transform="translate(3.30 110.10) scale(1.038 1)" font-family="Liberation Sans, Arial, sans-serif" font-size="18.2" font-weight="bold">NDVI trend/year</text>
<rect x="3.5" y="125.5" width="38" height="18.4" fill="#9c5221" stroke="#6e6e6e" stroke-width="1.1"/>
<text transform="translate(48.36 139.60) scale(1.058 1)" font-family="Liberation Sans, Arial, sans-serif" font-size="13.0" stroke="#000" stroke-width="0.15">&lt; -0.015</text>
<rect x="3.5" y="151.2" width="38" height="18.4" fill="#ad6b38" stroke="#6e6e6e" stroke-width="1.1"/>
<text transform="translate(48.36 165.30) scale(1.058 1)" font-family="Liberation Sans, Arial, sans-serif" font-size="13.0" stroke="#000" stroke-width="0.15">-0.015 - -0.01</text>
<rect x="3.5" y="176.9" width="38" height="18.4" fill="#e69800" stroke="#6e6e6e" stroke-width="1.1"/>
<text transform="translate(48.36 191.00) scale(1.058 1)" font-family="Liberation Sans, Arial, sans-serif" font-size="13.0" stroke="#000" stroke-width="0.15">-0.01 - -0.005</text>
<rect x="3.5" y="202.6" width="38" height="18.4" fill="#ffaa00" stroke="#6e6e6e" stroke-width="1.1"/>
<text transform="translate(48.36 216.70) scale(1.058 1)" font-family="Liberation Sans, Arial, sans-serif" font-size="13.0" stroke="#000" stroke-width="0.15">-0.005 - -0.004</text>
<rect x="3.5" y="228.3" width="38" height="18.4" fill="#ffd37f" stroke="#6e6e6e" stroke-width="1.1"/>
<text transform="translate(48.36 242.40) scale(1.058 1)" font-family="Liberation Sans, Arial, sans-serif" font-size="13.0" stroke="#000" stroke-width="0.15">-0.004 - -0.003</text>
<rect x="3.5" y="254.0" width="38" height="18.4" fill="#ffebaf" stroke="#6e6e6e" stroke-width="1.1"/>
<text transform="translate(48.36 268.10) scale(1.058 1)" font-family="Liberation Sans, Arial, sans-serif" font-size="13.0" stroke="#000" stroke-width="0.15">-0.003 - -0.002</text>
<rect x="3.5" y="279.7" width="38" height="18.4" fill="#ffebbe" stroke="#6e6e6e" stroke-width="1.1"/>
<text transform="translate(48.36 293.80) scale(1.058 1)" font-family="Liberation Sans, Arial, sans-serif" font-size="13.0" stroke="#000" stroke-width="0.15">-0.002 - -0.001</text>
<rect x="3.5" y="305.4" width="38" height="18.4" fill="#ffffff" stroke="#6e6e6e" stroke-width="1.1"/>
<text transform="translate(48.36 319.50) scale(1.058 1)" font-family="Liberation Sans, Arial, sans-serif" font-size="13.0" stroke="#000" stroke-width="0.15">-0.001 - 0.001</text>
<rect x="3.5" y="331.1" width="38" height="18.4" fill="#e9ffbe" stroke="#6e6e6e" stroke-width="1.1"/>
<text transform="translate(48.36 345.20) scale(1.058 1)" font-family="Liberation Sans, Arial, sans-serif" font-size="13.0" stroke="#000" stroke-width="0.15">0.001 - 0.002</text>
<rect x="3.5" y="356.8" width="38" height="18.4" fill="#d3ffbe" stroke="#6e6e6e" stroke-width="1.1"/>
<text transform="translate(48.36 370.90) scale(1.058 1)" font-family="Liberation Sans, Arial, sans-serif" font-size="13.0" stroke="#000" stroke-width="0.15">0.002 - 0.003</text>
<rect x="3.5" y="382.5" width="38" height="18.4" fill="#a3ff73" stroke="#6e6e6e" stroke-width="1.1"/>
<text transform="translate(48.36 396.60) scale(1.058 1)" font-family="Liberation Sans, Arial, sans-serif" font-size="13.0" stroke="#000" stroke-width="0.15">0.003 - 0.004</text>
<rect x="3.5" y="408.2" width="38" height="18.4" fill="#55ff00" stroke="#6e6e6e" stroke-width="1.1"/>
<text transform="translate(48.36 422.30) scale(1.058 1)" font-family="Liberation Sans, Arial, sans-serif" font-size="13.0" stroke="#000" stroke-width="0.15">0.004 - 0.005</text>
<rect x="3.5" y="433.9" width="38" height="18.4" fill="#4ce600" stroke="#6e6e6e" stroke-width="1.1"/>
<text transform="translate(48.36 448.00) scale(1.058 1)" font-family="Liberation Sans, Arial, sans-serif" font-size="13.0" stroke="#000" stroke-width="0.15">0.005 - 0.010</text>
<rect x="3.5" y="459.6" width="38" height="18.4" fill="#38a800" stroke="#6e6e6e" stroke-width="1.1"/>
<text transform="translate(48.36 473.70) scale(1.058 1)" font-family="Liberation Sans, Arial, sans-serif" font-size="13.0" stroke="#000" stroke-width="0.15">0.010 - 0.015</text>
<rect x="3.5" y="485.3" width="38" height="18.4" fill="#267300" stroke="#6e6e6e" stroke-width="1.1"/>
<text transform="translate(48.36 499.40) scale(1.058 1)" font-family="Liberation Sans, Arial, sans-serif" font-size="13.0" stroke="#000" stroke-width="0.15">&gt; 0.015</text>
<path d="M185.05 302.9L198.7 342.8L185.05 334.0L171.8 342.8z" fill="#000"/>
<text x="185.10" y="296.00" text-anchor="middle" font-family="Liberation Serif, Times New Roman, serif" font-size="14.4">N</text>
</svg>
</body></html>
